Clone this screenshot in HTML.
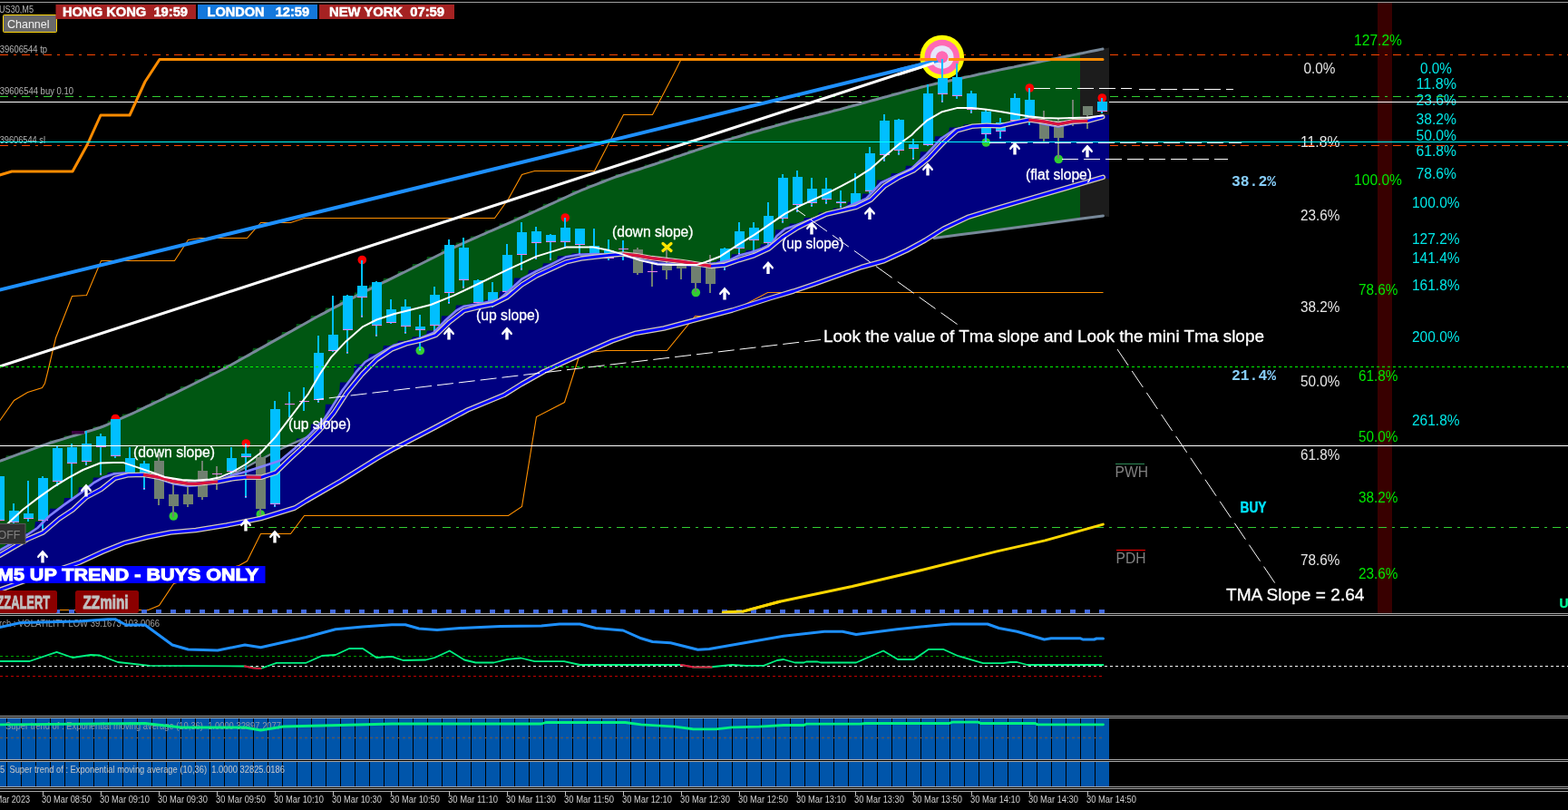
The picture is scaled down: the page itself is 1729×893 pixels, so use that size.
<!DOCTYPE html>
<html lang="en"><head><meta charset="utf-8"><title>US30 M5 chart</title>
<style>html,body{margin:0;padding:0;background:#000;overflow:hidden}svg{display:block}text{font-kerning:normal}</style></head>
<body>
<svg width="1729" height="893" viewBox="0 0 1729 893">
<rect x="0" y="0" width="1729" height="893" fill="#000"/>
<defs><clipPath id="main"><rect x="0" y="3" width="1729" height="673"/></clipPath><clipPath id="p1"><rect x="0" y="679" width="1729" height="110"/></clipPath></defs>
<g clip-path="url(#main)">
<rect x="1519" y="3" width="16" height="673" fill="#380000"/>
<text x="1566" y="80.5" font-family="'Liberation Sans', sans-serif" font-size="16" font-weight="normal" fill="#00F0F0" text-anchor="start" textLength="35" lengthAdjust="spacingAndGlyphs" fill-opacity="0.96" xml:space="preserve">0.0%</text>
<text x="1561.5" y="97.5" font-family="'Liberation Sans', sans-serif" font-size="16" font-weight="normal" fill="#00F0F0" text-anchor="start" textLength="44.5" lengthAdjust="spacingAndGlyphs" fill-opacity="0.96" xml:space="preserve">11.8%</text>
<text x="1561.5" y="115.5" font-family="'Liberation Sans', sans-serif" font-size="16" font-weight="normal" fill="#00F0F0" text-anchor="start" textLength="44.5" lengthAdjust="spacingAndGlyphs" fill-opacity="0.96" xml:space="preserve">23.6%</text>
<text x="1561.5" y="136.5" font-family="'Liberation Sans', sans-serif" font-size="16" font-weight="normal" fill="#00F0F0" text-anchor="start" textLength="44.5" lengthAdjust="spacingAndGlyphs" fill-opacity="0.96" xml:space="preserve">38.2%</text>
<text x="1561.5" y="154.5" font-family="'Liberation Sans', sans-serif" font-size="16" font-weight="normal" fill="#00F0F0" text-anchor="start" textLength="44.5" lengthAdjust="spacingAndGlyphs" fill-opacity="0.96" xml:space="preserve">50.0%</text>
<text x="1561.5" y="172" font-family="'Liberation Sans', sans-serif" font-size="16" font-weight="normal" fill="#00F0F0" text-anchor="start" textLength="44.5" lengthAdjust="spacingAndGlyphs" fill-opacity="0.96" xml:space="preserve">61.8%</text>
<text x="1561.5" y="197" font-family="'Liberation Sans', sans-serif" font-size="16" font-weight="normal" fill="#00F0F0" text-anchor="start" textLength="44.5" lengthAdjust="spacingAndGlyphs" fill-opacity="0.96" xml:space="preserve">78.6%</text>
<text x="1557" y="228.5" font-family="'Liberation Sans', sans-serif" font-size="16" font-weight="normal" fill="#00F0F0" text-anchor="start" textLength="52.5" lengthAdjust="spacingAndGlyphs" fill-opacity="0.96" xml:space="preserve">100.0%</text>
<text x="1557" y="268.5" font-family="'Liberation Sans', sans-serif" font-size="16" font-weight="normal" fill="#00F0F0" text-anchor="start" textLength="52.5" lengthAdjust="spacingAndGlyphs" fill-opacity="0.96" xml:space="preserve">127.2%</text>
<text x="1557" y="290" font-family="'Liberation Sans', sans-serif" font-size="16" font-weight="normal" fill="#00F0F0" text-anchor="start" textLength="52.5" lengthAdjust="spacingAndGlyphs" fill-opacity="0.96" xml:space="preserve">141.4%</text>
<text x="1557" y="320" font-family="'Liberation Sans', sans-serif" font-size="16" font-weight="normal" fill="#00F0F0" text-anchor="start" textLength="52.5" lengthAdjust="spacingAndGlyphs" fill-opacity="0.96" xml:space="preserve">161.8%</text>
<text x="1557" y="377" font-family="'Liberation Sans', sans-serif" font-size="16" font-weight="normal" fill="#00F0F0" text-anchor="start" textLength="52.5" lengthAdjust="spacingAndGlyphs" fill-opacity="0.96" xml:space="preserve">200.0%</text>
<text x="1557" y="468.5" font-family="'Liberation Sans', sans-serif" font-size="16" font-weight="normal" fill="#00F0F0" text-anchor="start" textLength="52.5" lengthAdjust="spacingAndGlyphs" fill-opacity="0.96" xml:space="preserve">261.8%</text>
<text x="1437.5" y="80.5" font-family="'Liberation Sans', sans-serif" font-size="16" font-weight="normal" fill="#FFFFFF" text-anchor="start" textLength="35.0" lengthAdjust="spacingAndGlyphs" fill-opacity="0.9" xml:space="preserve">0.0%</text>
<text x="1434" y="161.5" font-family="'Liberation Sans', sans-serif" font-size="16" font-weight="normal" fill="#FFFFFF" text-anchor="start" textLength="43.5" lengthAdjust="spacingAndGlyphs" fill-opacity="0.9" xml:space="preserve">11.8%</text>
<text x="1434" y="243" font-family="'Liberation Sans', sans-serif" font-size="16" font-weight="normal" fill="#FFFFFF" text-anchor="start" textLength="43.5" lengthAdjust="spacingAndGlyphs" fill-opacity="0.9" xml:space="preserve">23.6%</text>
<text x="1434" y="343.5" font-family="'Liberation Sans', sans-serif" font-size="16" font-weight="normal" fill="#FFFFFF" text-anchor="start" textLength="43.5" lengthAdjust="spacingAndGlyphs" fill-opacity="0.9" xml:space="preserve">38.2%</text>
<text x="1434" y="425.5" font-family="'Liberation Sans', sans-serif" font-size="16" font-weight="normal" fill="#FFFFFF" text-anchor="start" textLength="43.5" lengthAdjust="spacingAndGlyphs" fill-opacity="0.9" xml:space="preserve">50.0%</text>
<text x="1434" y="507" font-family="'Liberation Sans', sans-serif" font-size="16" font-weight="normal" fill="#FFFFFF" text-anchor="start" textLength="43.5" lengthAdjust="spacingAndGlyphs" fill-opacity="0.9" xml:space="preserve">61.8%</text>
<text x="1434" y="623" font-family="'Liberation Sans', sans-serif" font-size="16" font-weight="normal" fill="#FFFFFF" text-anchor="start" textLength="43.5" lengthAdjust="spacingAndGlyphs" fill-opacity="0.9" xml:space="preserve">78.6%</text>
<text x="1493" y="50" font-family="'Liberation Sans', sans-serif" font-size="16" font-weight="normal" fill="#00F000" text-anchor="start" textLength="53" lengthAdjust="spacingAndGlyphs" fill-opacity="0.96" xml:space="preserve">127.2%</text>
<text x="1493" y="203.5" font-family="'Liberation Sans', sans-serif" font-size="16" font-weight="normal" fill="#00F000" text-anchor="start" textLength="53" lengthAdjust="spacingAndGlyphs" fill-opacity="0.96" xml:space="preserve">100.0%</text>
<text x="1498" y="324.5" font-family="'Liberation Sans', sans-serif" font-size="16" font-weight="normal" fill="#00F000" text-anchor="start" textLength="43.5" lengthAdjust="spacingAndGlyphs" fill-opacity="0.96" xml:space="preserve">78.6%</text>
<text x="1498" y="420" font-family="'Liberation Sans', sans-serif" font-size="16" font-weight="normal" fill="#00F000" text-anchor="start" textLength="43.5" lengthAdjust="spacingAndGlyphs" fill-opacity="0.96" xml:space="preserve">61.8%</text>
<text x="1498" y="486.5" font-family="'Liberation Sans', sans-serif" font-size="16" font-weight="normal" fill="#00F000" text-anchor="start" textLength="43.5" lengthAdjust="spacingAndGlyphs" fill-opacity="0.96" xml:space="preserve">50.0%</text>
<text x="1498" y="553.5" font-family="'Liberation Sans', sans-serif" font-size="16" font-weight="normal" fill="#00F000" text-anchor="start" textLength="43.5" lengthAdjust="spacingAndGlyphs" fill-opacity="0.96" xml:space="preserve">38.2%</text>
<text x="1498" y="637.5" font-family="'Liberation Sans', sans-serif" font-size="16" font-weight="normal" fill="#00F000" text-anchor="start" textLength="43.5" lengthAdjust="spacingAndGlyphs" fill-opacity="0.96" xml:space="preserve">23.6%</text>
<line x1="0" y1="60.5" x2="1729" y2="60.5" stroke="#FF4500" stroke-width="1" stroke-dasharray="9 6 3 6" shape-rendering="crispEdges"/>
<line x1="0" y1="106.5" x2="1729" y2="106.5" stroke="#32CD32" stroke-width="1" stroke-dasharray="9 6 3 6" shape-rendering="crispEdges"/>
<line x1="0" y1="112.5" x2="1729" y2="112.5" stroke="#FFFFFF" stroke-width="1" shape-rendering="crispEdges"/>
<line x1="0" y1="160.5" x2="1729" y2="160.5" stroke="#FF4500" stroke-width="1" stroke-dasharray="9 6 3 6" shape-rendering="crispEdges"/>
<line x1="272" y1="581.5" x2="1729" y2="581.5" stroke="#32CD32" stroke-width="1" stroke-dasharray="9 6 3 6" shape-rendering="crispEdges"/>
<polygon points="1191,59.1 1216,54 1223,52.5 1223,239 1216,238.5 1191,241.5" fill="#1c1c1c"/>
<polygon points="-2,508.1 -1,508.1 0,507.8 1,507.4 2,507 3,506.7 4,506.3 5,505.9 6,505.6 7,502.3 8,502.3 9,502.3 10,502.3 11,502.3 12,502.3 13,502.3 14,502.3 15,502.3 16,501.9 17,501.6 18,501.2 19,500.8 20,500.5 21,500.1 22,499.7 23,496.4 24,496.4 25,496.4 26,496.4 27,496.4 28,496.4 29,496.4 30,496.4 31,496.4 32,496.1 33,495.7 34,495.3 35,495 36,494.6 37,494.2 38,493.9 39,490.6 40,490.6 41,490.6 42,490.6 43,490.6 44,490.6 45,490.6 46,490.6 47,490.6 48,490.3 49,489.9 50,489.6 51,489.3 52,488.9 53,488.6 54,488.3 55,485.5 56,485.5 57,485.5 58,485.5 59,485.5 60,485.5 61,485.5 62,485.5 63,485.5 64,485.2 65,484.9 66,484.6 67,484.3 68,484 69,483.7 70,483.4 71,480.6 72,480.6 73,480.6 74,480.6 75,480.6 76,480.6 77,480.6 78,480.6 79,480.6 80,480.3 81,480 82,479.7 83,479.4 84,479.1 85,478.8 86,478.5 87,475.7 88,475.7 89,475.7 90,475.7 91,475.7 92,475.7 93,475.7 94,475.7 95,475.7 96,475.4 97,475.1 98,474.8 99,474.5 100,474.2 101,473.9 102,473.6 103,470.6 104,470.6 105,470.6 106,470.6 107,470.6 108,470.6 109,470.6 110,470.6 111,470.6 112,470.2 113,469.8 114,469.5 115,469.1 116,468.6 117,468.2 118,467.8 119,463.8 120,463.8 121,463.8 122,463.8 123,463.8 124,463.8 125,463.8 126,463.8 127,463.8 128,463.3 129,462.9 130,462.4 131,462 132,461.6 133,461.1 134,460.7 135,456.6 136,456.6 137,456.6 138,456.6 139,456.6 140,456.6 141,456.6 142,456.6 143,456.6 144,456.2 145,455.7 146,455.3 147,454.8 148,454.4 149,453.9 150,453.5 151,449.2 152,449.2 153,449.2 154,449.2 155,449.2 156,449.2 157,449.2 158,449.2 159,449.2 160,448.7 161,448.2 162,447.7 163,447.3 164,446.8 165,446.3 166,445.8 167,441.5 168,441.5 169,441.5 170,441.5 171,441.5 172,441.5 173,441.5 174,441.5 175,441.5 176,441 177,440.5 178,440.1 179,439.6 180,439.1 181,438.6 182,438.1 183,433.8 184,433.8 185,433.8 186,433.8 187,433.8 188,433.8 189,433.8 190,433.8 191,433.8 192,433.3 193,432.9 194,432.4 195,431.9 196,431.4 197,430.9 198,430.4 199,426 200,426 201,426 202,426 203,426 204,426 205,426 206,426 207,426 208,425.5 209,425 210,424.5 211,424 212,423.5 213,423 214,422.5 215,418 216,418 217,418 218,418 219,418 220,418 221,418 222,418 223,418 224,417.5 225,417 226,416.5 227,416 228,415.5 229,415 230,414.5 231,410 232,410 233,410 234,410 235,410 236,410 237,410 238,410 239,410 240,409.5 241,409 242,408.5 243,408 244,407.5 245,407 246,406.5 247,401.7 248,401.7 249,401.7 250,401.7 251,401.7 252,401.7 253,401.7 254,401.7 255,401.7 256,401.1 257,400.6 258,400 259,399.5 260,398.9 261,398.3 262,397.8 263,392.7 264,392.7 265,392.7 266,392.7 267,392.7 268,392.7 269,392.7 270,392.7 271,392.7 272,392.2 273,391.6 274,391.1 275,390.5 276,389.9 277,389.4 278,388.8 279,383.8 280,383.8 281,383.8 282,383.8 283,383.8 284,383.8 285,383.8 286,383.8 287,383.8 288,383.2 289,382.7 290,382.1 291,381.5 292,381 293,380.4 294,379.9 295,374.8 296,374.8 297,374.8 298,374.8 299,374.8 300,374.8 301,374.8 302,374.8 303,374.8 304,374.3 305,373.7 306,373.1 307,372.6 308,372 309,371.5 310,370.9 311,365.9 312,365.9 313,365.9 314,365.9 315,365.9 316,365.9 317,365.9 318,365.9 319,365.9 320,365.3 321,364.7 322,364.2 323,363.6 324,363.1 325,362.5 326,361.9 327,356.9 328,356.9 329,356.9 330,356.9 331,356.9 332,356.9 333,356.9 334,356.9 335,356.9 336,356.3 337,355.8 338,355.2 339,354.7 340,354.1 341,353.5 342,353 343,348 344,348 345,348 346,348 347,348 348,348 349,348 350,348 351,348 352,347.5 353,346.9 354,346.4 355,345.9 356,345.3 357,344.8 358,344.3 359,339.5 360,339.5 361,339.5 362,339.5 363,339.5 364,339.5 365,339.5 366,339.5 367,339.5 368,339 369,338.4 370,337.9 371,337.4 372,336.8 373,336.3 374,335.8 375,331 376,331 377,331 378,331 379,331 380,331 381,331 382,331 383,331 384,330.5 385,330 386,329.4 387,328.9 388,328.4 389,327.8 390,327.3 391,322.6 392,322.6 393,322.6 394,322.6 395,322.6 396,322.6 397,322.6 398,322.6 399,322.6 400,322.1 401,321.6 402,321.1 403,320.6 404,320.1 405,319.6 406,319.1 407,314.6 408,314.6 409,314.6 410,314.6 411,314.6 412,314.6 413,314.6 414,314.6 415,314.6 416,314.2 417,313.7 418,313.2 419,312.7 420,312.2 421,311.7 422,311.2 423,306.8 424,306.8 425,306.8 426,306.8 427,306.8 428,306.8 429,306.8 430,306.8 431,306.8 432,306.3 433,305.8 434,305.3 435,304.8 436,304.4 437,303.9 438,303.4 439,299 440,299 441,299 442,299 443,299 444,299 445,299 446,299 447,299 448,298.5 449,298 450,297.5 451,297 452,296.5 453,296 454,295.5 455,291 456,291 457,291 458,291 459,291 460,291 461,291 462,291 463,291 464,290.5 465,290 466,289.5 467,289 468,288.5 469,288 470,287.5 471,283 472,283 473,283 474,283 475,283 476,283 477,283 478,283 479,283 480,282.5 481,282 482,281.5 483,281 484,280.5 485,280 486,279.5 487,275 488,275 489,275 490,275 491,275 492,275 493,275 494,275 495,275 496,274.5 497,274 498,273.6 499,273.1 500,272.6 501,272.1 502,271.6 503,267.6 504,267.6 505,267.6 506,267.6 507,267.6 508,267.6 509,267.6 510,267.6 511,267.6 512,267.1 513,266.6 514,266.2 515,265.8 516,265.3 517,264.8 518,264.4 519,260.4 520,260.4 521,260.4 522,260.4 523,260.4 524,260.4 525,260.4 526,260.4 527,260.4 528,259.9 529,259.5 530,259 531,258.6 532,258.1 533,257.7 534,257.3 535,253.4 536,253.4 537,253.4 538,253.4 539,253.4 540,253.4 541,253.4 542,253.4 543,253.4 544,252.9 545,252.5 546,252.1 547,251.6 548,251.2 549,250.8 550,250.3 551,246.4 552,246.4 553,246.4 554,246.4 555,246.4 556,246.4 557,246.4 558,246.4 559,246.4 560,246 561,245.5 562,245.1 563,244.6 564,244.2 565,243.7 566,243.3 567,239.2 568,239.2 569,239.2 570,239.2 571,239.2 572,239.2 573,239.2 574,239.2 575,239.2 576,238.8 577,238.3 578,237.9 579,237.4 580,237 581,236.5 582,236.1 583,232.1 584,232.1 585,232.1 586,232.1 587,232.1 588,232.1 589,232.1 590,232.1 591,232.1 592,231.6 593,231.1 594,230.7 595,230.2 596,229.8 597,229.3 598,228.9 599,224.8 600,224.8 601,224.8 602,224.8 603,224.8 604,224.8 605,224.8 606,224.8 607,224.8 608,224.3 609,223.8 610,223.4 611,222.9 612,222.5 613,222 614,221.5 615,217.4 616,217.4 617,217.4 618,217.4 619,217.4 620,217.4 621,217.4 622,217.4 623,217.4 624,216.9 625,216.5 626,216 627,215.5 628,215.1 629,214.6 630,214.2 631,210.1 632,210.1 633,210.1 634,210.1 635,210.1 636,210.1 637,210.1 638,210.1 639,210.1 640,209.7 641,209.3 642,208.9 643,208.5 644,208.1 645,207.7 646,207.3 647,203.8 648,203.8 649,203.8 650,203.8 651,203.8 652,203.8 653,203.8 654,203.8 655,203.8 656,203.4 657,203 658,202.6 659,202.2 660,201.8 661,201.4 662,201 663,197.5 664,197.5 665,197.5 666,197.5 667,197.5 668,197.5 669,197.5 670,197.5 671,197.5 672,197.2 673,196.8 674,196.4 675,196 676,195.6 677,195.3 678,194.9 679,191.9 680,191.9 681,191.9 682,191.9 683,191.9 684,191.9 685,191.9 686,191.9 687,191.9 688,191.6 689,191.2 690,190.9 691,190.6 692,190.2 693,189.9 694,189.6 695,186.7 696,186.7 697,186.7 698,186.7 699,186.7 700,186.7 701,186.7 702,186.7 703,186.7 704,186.4 705,186 706,185.7 707,185.4 708,185.1 709,184.7 710,184.4 711,181.5 712,181.5 713,181.5 714,181.5 715,181.5 716,181.5 717,181.5 718,181.5 719,181.5 720,181.1 721,180.8 722,180.5 723,180.1 724,179.8 725,179.4 726,179.1 727,176.1 728,176.1 729,176.1 730,176.1 731,176.1 732,176.1 733,176.1 734,176.1 735,176.1 736,175.8 737,175.4 738,175.1 739,174.7 740,174.4 741,174.1 742,173.7 743,170.7 744,170.7 745,170.7 746,170.7 747,170.7 748,170.7 749,170.7 750,170.7 751,170.7 752,170.4 753,170 754,169.7 755,169.4 756,169 757,168.7 758,168.4 759,165.3 760,165.3 761,165.3 762,165.3 763,165.3 764,165.3 765,165.3 766,165.3 767,165.3 768,165 769,164.7 770,164.3 771,164 772,163.6 773,163.3 774,163 775,159.9 776,159.9 777,159.9 778,159.9 779,159.9 780,159.9 781,159.9 782,159.9 783,159.9 784,159.6 785,159.3 786,158.9 787,158.6 788,158.3 789,157.9 790,157.6 791,154.7 792,154.7 793,154.7 794,154.7 795,154.7 796,154.7 797,154.7 798,154.7 799,154.7 800,154.4 801,154.1 802,153.8 803,153.5 804,153.2 805,152.9 806,152.6 807,149.9 808,149.9 809,149.9 810,149.9 811,149.9 812,149.9 813,149.9 814,149.9 815,149.9 816,149.6 817,149.3 818,149 819,148.7 820,148.4 821,148.1 822,147.8 823,145.1 824,145.1 825,145.1 826,145.1 827,145.1 828,145.1 829,145.1 830,145.1 831,145.1 832,144.8 833,144.5 834,144.2 835,143.9 836,143.6 837,143.3 838,143.1 839,140.5 840,140.5 841,140.5 842,140.5 843,140.5 844,140.5 845,140.5 846,140.5 847,140.5 848,140.2 849,140 850,139.7 851,139.4 852,139.1 853,138.8 854,138.6 855,136.1 856,136.1 857,136.1 858,136.1 859,136.1 860,136.1 861,136.1 862,136.1 863,136.1 864,135.8 865,135.5 866,135.2 867,134.9 868,134.7 869,134.4 870,134.1 871,131.8 872,131.8 873,131.8 874,131.8 875,131.8 876,131.8 877,131.8 878,131.8 879,131.8 880,131.5 881,131.3 882,131 883,130.8 884,130.6 885,130.3 886,130.1 887,128 888,128 889,128 890,128 891,128 892,128 893,128 894,128 895,128 896,127.7 897,127.5 898,127.2 899,127 900,126.8 901,126.5 902,126.3 903,123.9 904,123.9 905,123.9 906,123.9 907,123.9 908,123.9 909,123.9 910,123.9 911,123.9 912,123.7 913,123.4 914,123.2 915,122.9 916,122.7 917,122.4 918,122.1 919,119.8 920,119.8 921,119.8 922,119.8 923,119.8 924,119.8 925,119.8 926,119.8 927,119.8 928,119.5 929,119.3 930,119 931,118.7 932,118.5 933,118.2 934,117.9 935,115.5 936,115.5 937,115.5 938,115.5 939,115.5 940,115.5 941,115.5 942,115.5 943,115.5 944,115.2 945,115 946,114.7 947,114.4 948,114.1 949,113.9 950,113.6 951,111.1 952,111.1 953,111.1 954,111.1 955,111.1 956,111.1 957,111.1 958,111.1 959,111.1 960,110.9 961,110.6 962,110.3 963,110 964,109.8 965,109.5 966,109.2 967,106.8 968,106.8 969,106.8 970,106.8 971,106.8 972,106.8 973,106.8 974,106.8 975,106.8 976,106.5 977,106.2 978,106 979,105.7 980,105.4 981,105.1 982,104.9 983,102.4 984,102.4 985,102.4 986,102.4 987,102.4 988,102.4 989,102.4 990,102.4 991,102.4 992,102.1 993,101.9 994,101.6 995,101.3 996,101 997,100.8 998,100.5 999,98 1000,98 1001,98 1002,98 1003,98 1004,98 1005,98 1006,98 1007,98 1008,97.8 1009,97.5 1010,97.2 1011,97 1012,96.7 1013,96.4 1014,96.1 1015,93.9 1016,93.9 1017,93.9 1018,93.9 1019,93.9 1020,93.9 1021,93.9 1022,93.9 1023,93.9 1024,93.7 1025,93.4 1026,93.2 1027,93 1028,92.8 1029,92.5 1030,92.3 1031,90.3 1032,90.3 1033,90.3 1034,90.3 1035,90.3 1036,90.3 1037,90.3 1038,90.3 1039,90.3 1040,90.1 1041,89.9 1042,89.7 1043,89.5 1044,89.2 1045,89 1046,88.8 1047,86.8 1048,86.8 1049,86.8 1050,86.8 1051,86.8 1052,86.8 1053,86.8 1054,86.8 1055,86.8 1056,86.6 1057,86.4 1058,86.2 1059,86 1060,85.8 1061,85.5 1062,85.3 1063,83.3 1064,83.3 1065,83.3 1066,83.3 1067,83.3 1068,83.3 1069,83.3 1070,83.3 1071,83.3 1072,83.1 1073,82.9 1074,82.7 1075,82.5 1076,82.2 1077,82 1078,81.8 1079,79.8 1080,79.8 1081,79.8 1082,79.8 1083,79.8 1084,79.8 1085,79.8 1086,79.8 1087,79.8 1088,79.6 1089,79.4 1090,79.2 1091,79 1092,78.8 1093,78.5 1094,78.3 1095,76.4 1096,76.4 1097,76.4 1098,76.4 1099,76.4 1100,76.4 1101,76.4 1102,76.4 1103,76.4 1104,76.2 1105,76 1106,75.8 1107,75.6 1108,75.4 1109,75.2 1110,75 1111,73.2 1112,73.2 1113,73.2 1114,73.2 1115,73.2 1116,73.2 1117,73.2 1118,73.2 1119,73.2 1120,72.9 1121,72.7 1122,72.5 1123,72.3 1124,72.1 1125,71.9 1126,71.7 1127,69.9 1128,69.9 1129,69.9 1130,69.9 1131,69.9 1132,69.9 1133,69.9 1134,69.9 1135,69.9 1136,69.7 1137,69.5 1138,69.3 1139,69.1 1140,68.9 1141,68.7 1142,68.5 1143,66.7 1144,66.7 1145,66.7 1146,66.7 1147,66.7 1148,66.7 1149,66.7 1150,66.7 1151,66.7 1152,66.5 1153,66.3 1154,66.1 1155,65.9 1156,65.7 1157,65.5 1158,65.2 1159,63.4 1160,63.4 1161,63.4 1162,63.4 1163,63.4 1164,63.4 1165,63.4 1166,63.4 1167,63.4 1168,63.2 1169,63 1170,62.8 1171,62.6 1172,62.4 1173,62.2 1174,62 1175,60.2 1176,60.2 1177,60.2 1178,60.2 1179,60.2 1180,60.2 1181,60.2 1182,60.2 1183,60.2 1184,60 1185,59.8 1186,59.6 1187,59.4 1188,59.2 1189,59 1190,58.8 1191,56.9 1191,241.3 1126.7,250 1100,253.6 1060,258.5 1030,262 1020,265 1000,276 975,287.5 950,294.5 925,303.5 900,312.5 875,321 850,328.5 807.5,342 775,350.5 732,362 700,367.5 675,376 650,387 625,398 600,409.5 575,423.5 556,435.3 515.6,452 480,471 432,496 416,505.2 375.6,530.3 338,552 325,560 287.5,571.5 270,575 250,579 216,584.5 188,587 163,592 138,598.3 112.9,608.4 87.8,620 37,637 -2,651" fill="#005612"/>
<polygon points="-2,605.5 -1,605.5 0,605 1,604.4 2,603.9 3,603.3 4,602.7 5,602.2 6,601.6 7,596.5 8,596.5 9,596.5 10,596.5 11,596.5 12,596.5 13,596.5 14,596.5 15,596.5 16,596 17,595.4 18,594.8 19,594.3 20,593.7 21,593.1 22,592.6 23,587.4 24,587.4 25,587.4 26,587.4 27,587.4 28,587.4 29,587.4 30,587.4 31,587.4 32,586.7 33,586.1 34,585.4 35,584.7 36,584.1 37,583.4 38,582.8 39,574.9 40,574.9 41,574.9 42,574.9 43,574.9 44,574.9 45,574.9 46,574.9 47,574.9 48,573.9 49,572.9 50,571.9 51,570.9 52,569.9 53,568.9 54,567.9 55,560.8 56,560.8 57,560.8 58,560.8 59,560.8 60,560.8 61,560.8 62,560.8 63,560.8 64,560.1 65,559.3 66,558.6 67,557.8 68,557.1 69,556.3 70,555.6 71,549.1 72,549.1 73,549.1 74,549.1 75,549.1 76,549.1 77,549.1 78,549.1 79,549.1 80,548.4 81,547.7 82,547 83,546.3 84,545.6 85,544.9 86,544.2 87,537.3 88,537.3 89,537.3 90,537.3 91,537.3 92,537.3 93,537.3 94,537.3 95,537.3 96,536.6 97,535.8 98,535 99,534.2 100,533.5 101,532.7 102,531.9 103,526.4 104,526.4 105,526.4 106,526.4 107,526.4 108,526.4 109,526.4 110,526.4 111,526.4 112,525.8 113,525.4 114,524.9 115,524.6 116,524.2 117,523.9 118,523.5 119,520.8 120,520.8 121,520.8 122,520.8 123,520.8 124,520.8 125,520.8 126,520.8 127,520.8 128,520.7 129,520.6 130,520.6 131,520.5 132,520.4 133,520.4 134,520.3 135,520.2 136,520.1 137,520.1 138,520 139,520.1 140,520.2 141,520.3 142,520.4 143,520.5 144,520.5 145,520.5 146,520.5 147,520.5 148,520.5 149,520.5 150,520.5 151,521.3 152,521.4 153,521.5 154,521.6 155,521.7 156,521.8 157,521.8 158,521.8 159,522 160,522 161,522 162,522 163,522 164,522 165,522 166,522 167,523.3 168,523.4 169,523.6 170,523.8 171,523.9 172,524.1 173,524.3 174,524.4 175,524.6 176,524.6 177,524.6 178,524.6 179,524.6 180,524.6 181,524.6 182,524.6 183,526.9 184,527.1 185,527.4 186,527.7 187,528 188,528.3 189,528.6 190,528.9 191,529.1 192,529.1 193,529.1 194,529.1 195,529.1 196,529.1 197,529.1 198,529.1 199,530.4 200,530.5 201,530.7 202,530.8 203,531 204,531.1 205,531.3 206,531.4 207,531.5 208,531.5 209,531.5 210,531.5 211,531.5 212,531.5 213,531.5 214,531.5 215,531.1 216,531.1 217,531.1 218,531.1 219,531.1 220,531.1 221,531.1 222,531.1 223,531.1 224,531 225,530.9 226,530.8 227,530.8 228,530.7 229,530.6 230,530.5 231,528.4 232,528.4 233,528.4 234,528.4 235,528.4 236,528.4 237,528.4 238,528.4 239,528.4 240,528.2 241,527.9 242,527.5 243,527.2 244,526.8 245,526.5 246,526.1 247,523 248,523 249,523 250,523 251,523 252,523 253,523 254,523 255,523 256,522.6 257,522.4 258,522.1 259,521.8 260,521.5 261,521.3 262,521 263,518.5 264,518.5 265,518.5 266,518.5 267,518.5 268,518.5 269,518.5 270,518.5 271,518.5 272,518.2 273,517.9 274,517.6 275,517.3 276,517 277,516.6 278,516.3 279,513.5 280,513.5 281,513.5 282,513.5 283,513.5 284,513.5 285,513.5 286,513.5 287,513.5 288,513.1 289,512.8 290,512.5 291,512.2 292,511.8 293,511.5 294,511.2 295,508.2 296,508.2 297,508.2 298,508.2 299,508.2 300,508.2 301,508.2 302,508.2 303,508.2 304,507.9 305,507.6 306,507.2 307,506.9 308,506.6 309,506 310,505.4 311,497.8 312,497.8 313,497.8 314,497.8 315,497.8 316,497.8 317,497.8 318,497.8 319,497.8 320,497 321,496.1 322,495.3 323,494.4 324,493.6 325,492.7 326,491.8 327,483.6 328,483.6 329,483.6 330,483.6 331,483.6 332,483.6 333,483.6 334,483.6 335,483.6 336,482.6 337,481.7 338,480.8 339,479.9 340,479 341,478 342,477.1 343,467.4 344,467.4 345,467.4 346,467.4 347,467.4 348,467.4 349,467.4 350,467.4 351,467.4 352,466.3 353,465.2 354,464.1 355,463 356,462 357,460.9 358,459.8 359,445.8 360,445.8 361,445.8 362,445.8 363,445.8 364,445.8 365,445.8 366,445.8 367,445.8 368,444.2 369,442.6 370,441 371,439.4 372,437.8 373,436.2 374,434.6 375,421.6 376,421.6 377,421.6 378,421.6 379,421.6 380,421.6 381,421.6 382,421.6 383,421.6 384,420.3 385,418.9 386,417.6 387,416.3 388,415 389,413.6 390,412.3 391,401.6 392,401.6 393,401.6 394,401.6 395,401.6 396,401.6 397,401.6 398,401.6 399,401.6 400,400.5 401,399.4 402,398.3 403,397.5 404,396.7 405,396.2 406,395.6 407,390.3 408,390.3 409,390.3 410,390.3 411,390.3 412,390.3 413,390.3 414,390.3 415,390.3 416,389.7 417,389.2 418,388.6 419,388 420,387.4 421,386.9 422,386.3 423,381.1 424,381.1 425,381.1 426,381.1 427,381.1 428,381.1 429,381.1 430,381.1 431,381.1 432,380.5 433,379.9 434,379.4 435,379.1 436,378.8 437,378.5 438,378.2 439,375.8 440,375.8 441,375.8 442,375.8 443,375.8 444,375.8 445,375.8 446,375.8 447,375.8 448,375.5 449,375.3 450,375 451,374.7 452,374.4 453,374.1 454,373.8 455,371.2 456,371.2 457,371.2 458,371.2 459,371.2 460,371.2 461,371.2 462,371.2 463,371.2 464,370.9 465,370.6 466,370.3 467,369.9 468,369.5 469,369.1 470,368.7 471,364.4 472,364.4 473,364.4 474,364.4 475,364.4 476,364.4 477,364.4 478,364.4 479,364.4 480,363.4 481,362.3 482,361.3 483,360.2 484,359.2 485,358.1 486,357.1 487,348.3 488,348.3 489,348.3 490,348.3 491,348.3 492,348.3 493,348.3 494,348.3 495,348.3 496,347.4 497,346.5 498,345.6 499,344.7 500,343.8 501,342.9 502,342 503,336.6 504,336.6 505,336.6 506,336.6 507,336.6 508,336.6 509,336.6 510,336.6 511,336.6 512,336.2 513,336 514,335.9 515,335.7 516,335.6 517,335.4 518,335.3 519,333.9 520,333.9 521,333.9 522,333.9 523,333.9 524,333.9 525,333.9 526,333.9 527,333.9 528,333.7 529,333.5 530,333.3 531,333 532,332.8 533,332.6 534,332.4 535,330.4 536,330.4 537,330.4 538,330.4 539,330.4 540,330.4 541,330.4 542,330.4 543,330.4 544,330.2 545,330 546,329.7 547,329.5 548,329.3 549,329.1 550,328.8 551,321.1 552,321.1 553,321.1 554,321.1 555,321.1 556,321.1 557,321.1 558,321.1 559,321.1 560,320.2 561,319.3 562,318.4 563,317.4 564,316.5 565,315.6 566,314.7 567,306.6 568,306.6 569,306.6 570,306.6 571,306.6 572,306.6 573,306.6 574,306.6 575,306.6 576,305.8 577,305.3 578,304.7 579,304.2 580,303.7 581,303.1 582,302.6 583,297.7 584,297.7 585,297.7 586,297.7 587,297.7 588,297.7 589,297.7 590,297.7 591,297.7 592,297.2 593,296.8 594,296.3 595,295.8 596,295.4 597,294.9 598,294.5 599,290.3 600,290.3 601,290.3 602,290.3 603,290.3 604,290.3 605,290.3 606,290.3 607,290.3 608,289.8 609,289.3 610,288.8 611,288.3 612,287.8 613,287.3 614,286.8 615,282.3 616,282.3 617,282.3 618,282.3 619,282.3 620,282.3 621,282.3 622,282.3 623,282.3 624,281.8 625,281.6 626,281.4 627,281.2 628,281 629,280.8 630,280.6 631,279.2 632,279.2 633,279.2 634,279.2 635,279.2 636,279.2 637,279.2 638,279.2 639,279.2 640,279.1 641,279.1 642,279.1 643,279 644,279 645,279 646,278.9 647,278.7 648,278.7 649,278.7 650,278.7 651,278.7 652,278.7 653,278.7 654,278.7 655,278.7 656,278.6 657,278.6 658,278.6 659,278.6 660,278.7 661,278.7 662,278.7 663,278.7 664,278.8 665,278.8 666,278.8 667,278.8 668,278.8 669,278.9 670,278.9 671,278.9 672,278.9 673,278.9 674,278.9 675,278.9 676,278.9 677,278.9 678,278.9 679,278.7 680,278.7 681,278.7 682,278.7 683,278.7 684,278.7 685,278.7 686,278.7 687,278.7 688,278.7 689,278.7 690,278.7 691,278.7 692,278.7 693,278.7 694,278.7 695,279.5 696,279.6 697,279.7 698,279.8 699,279.9 700,280 701,280.1 702,280.2 703,280.4 704,280.4 705,280.4 706,280.4 707,280.4 708,280.4 709,280.4 710,280.4 711,281.7 712,281.9 713,282.1 714,282.3 715,282.4 716,282.6 717,282.8 718,282.9 719,283.1 720,283.1 721,283.1 722,283.1 723,283.1 724,283.1 725,283.1 726,283.1 727,284 728,284.2 729,284.3 730,284.4 731,284.5 732,284.6 733,284.7 734,284.9 735,285 736,285 737,285 738,285 739,285 740,285 741,285 742,285 743,285.9 744,286 745,286.1 746,286.3 747,286.4 748,286.5 749,286.6 750,286.7 751,286.9 752,286.9 753,286.9 754,286.9 755,286.9 756,286.9 757,286.9 758,286.9 759,288.1 760,288.2 761,288.4 762,288.5 763,288.7 764,288.8 765,289 766,289.1 767,289.3 768,289.3 769,289.3 770,289.3 771,289.3 772,289.3 773,289.3 774,289.3 775,289.5 776,289.5 777,289.5 778,289.5 779,289.5 780,289.5 781,289.5 782,289.5 783,289.5 784,289.4 785,289.3 786,289.2 787,289 788,288.9 789,288.8 790,288.7 791,286.6 792,286.6 793,286.6 794,286.6 795,286.6 796,286.6 797,286.6 798,286.6 799,286.6 800,286.3 801,286.1 802,285.8 803,285.6 804,285.3 805,285 806,284.7 807,280.3 808,280.3 809,280.3 810,280.3 811,280.3 812,280.3 813,280.3 814,280.3 815,280.3 816,279.8 817,279.6 818,279.3 819,279.1 820,278.8 821,278.6 822,278.3 823,275.7 824,275.7 825,275.7 826,275.7 827,275.7 828,275.7 829,275.7 830,275.7 831,275.7 832,275.4 833,275 834,274.7 835,274.3 836,274 837,273.6 838,273.3 839,269.2 840,269.2 841,269.2 842,269.2 843,269.2 844,269.2 845,269.2 846,269.2 847,269.2 848,268.7 849,268.2 850,267.7 851,266.6 852,265.4 853,264 854,262.6 855,253.3 856,253.3 857,253.3 858,253.3 859,253.3 860,253.3 861,253.3 862,253.3 863,253.3 864,252.5 865,251.7 866,251 867,250.6 868,250.3 869,249.9 870,249.6 871,246.4 872,246.4 873,246.4 874,246.4 875,246.4 876,246.4 877,246.4 878,246.4 879,246.4 880,246 881,245.6 882,245.2 883,244.8 884,244.4 885,244 886,243.6 887,240.1 888,240.1 889,240.1 890,240.1 891,240.1 892,240.1 893,240.1 894,240.1 895,240.1 896,239.8 897,239.4 898,239 899,238.7 900,238.3 901,237.9 902,237.6 903,234.5 904,234.5 905,234.5 906,234.5 907,234.5 908,234.5 909,234.5 910,234.5 911,234.5 912,234.2 913,233.9 914,233.6 915,233.2 916,232.9 917,232.6 918,232.3 919,229.4 920,229.4 921,229.4 922,229.4 923,229.4 924,229.4 925,229.4 926,229.4 927,229.4 928,229.1 929,228.8 930,228.5 931,228.1 932,227.6 933,227.2 934,226.8 935,222.8 936,222.8 937,222.8 938,222.8 939,222.8 940,222.8 941,222.8 942,222.8 943,222.8 944,222.4 945,222 946,221.5 947,221.1 948,220.7 949,220.2 950,219.8 951,213.5 952,213.5 953,213.5 954,213.5 955,213.5 956,213.5 957,213.5 958,213.5 959,213.5 960,212.5 961,211.4 962,210.3 963,209.2 964,208.2 965,207.1 966,206 967,198.4 968,198.4 969,198.4 970,198.4 971,198.4 972,198.4 973,198.4 974,198.4 975,198.4 976,197.9 977,197.5 978,197 979,196.5 980,196.1 981,195.6 982,195.1 983,190.9 984,190.9 985,190.9 986,190.9 987,190.9 988,190.9 989,190.9 990,190.9 991,190.9 992,190.5 993,190 994,189.5 995,189.1 996,188.6 997,188.2 998,187.7 999,182.8 1000,182.8 1001,182.8 1002,182.8 1003,182.8 1004,182.8 1005,182.8 1006,182.8 1007,182.8 1008,181.8 1009,180.8 1010,179.9 1011,178.9 1012,177.9 1013,177 1014,176 1015,167.2 1016,167.2 1017,167.2 1018,167.2 1019,167.2 1020,167.2 1021,167.2 1022,167.2 1023,167.2 1024,166.1 1025,165 1026,164 1027,162.9 1028,161.8 1029,160.7 1030,159.6 1031,150.3 1032,150.3 1033,150.3 1034,150.3 1035,150.3 1036,150.3 1037,150.3 1038,150.3 1039,150.3 1040,149.7 1041,149 1042,148.4 1043,147.7 1044,147 1045,146.4 1046,145.7 1047,140.6 1048,140.6 1049,140.6 1050,140.6 1051,140.6 1052,140.6 1053,140.6 1054,140.6 1055,140.6 1056,140.4 1057,140.2 1058,139.9 1059,139.7 1060,139.5 1061,139.3 1062,139.1 1063,137.2 1064,137.2 1065,137.2 1066,137.2 1067,137.2 1068,137.2 1069,137.2 1070,137.2 1071,137.2 1072,137 1073,137 1074,136.9 1075,136.9 1076,136.9 1077,136.8 1078,136.8 1079,136.5 1080,136.5 1081,136.5 1082,136.5 1083,136.5 1084,136.5 1085,136.5 1086,136.5 1087,136.5 1088,136.5 1089,136.5 1090,136.5 1091,136.5 1092,136.5 1093,136.5 1094,136.5 1095,136.7 1096,136.8 1097,136.8 1098,136.8 1099,136.9 1100,136.9 1101,136.9 1102,136.9 1103,136.9 1104,136.7 1105,136.5 1106,136.3 1107,136.1 1108,135.9 1109,135.7 1110,135.5 1111,133.5 1112,133.5 1113,133.5 1114,133.5 1115,133.5 1116,133.5 1117,133.5 1118,133.5 1119,133.5 1120,133.4 1121,133.2 1122,133 1123,132.8 1124,132.7 1125,132.4 1126,132.2 1127,130.6 1128,130.6 1129,130.6 1130,130.6 1131,130.6 1132,130.6 1133,130.6 1134,130.5 1135,130.6 1136,130.6 1137,130.6 1138,130.6 1139,130.6 1140,130.6 1141,130.6 1142,130.6 1143,131.5 1144,131.6 1145,131.8 1146,131.9 1147,132 1148,132.1 1149,132.2 1150,132.3 1151,132.5 1152,132.5 1153,132.5 1154,132.5 1155,132.5 1156,132.5 1157,132.5 1158,132.5 1159,134 1160,134.2 1161,134.4 1162,134.6 1163,134.8 1164,135 1165,135.2 1166,135.3 1167,135.3 1168,135.3 1169,135.1 1170,134.9 1171,134.7 1172,134.5 1173,134.3 1174,134.1 1175,132.5 1176,132.5 1177,132.5 1178,132.5 1179,132.5 1180,132.5 1181,132.5 1182,132.5 1183,132.5 1184,132.4 1185,132.3 1186,132.3 1187,132.3 1188,132.2 1189,132.2 1190,132.1 1191,131.7 1192,131.7 1193,131.7 1194,131.7 1195,131.7 1196,131.7 1197,131.7 1198,131.7 1199,131.7 1200,131.6 1201,131.4 1202,131.1 1203,130.8 1204,130.6 1205,130.3 1206,130 1207,127.6 1208,127.6 1209,127.6 1210,127.6 1211,127.6 1212,127.6 1213,127.6 1214,127.6 1215,127.6 1216,127.3 1216,126.4 1223,126.4 1223,197.5 1216,196 1216.2,195.4 1200,200.2 1175,207.5 1135,219.2 1100,229.4 1068.2,239.1 1040.6,252 1020,265 1000,276 975,287.5 950,294.5 925,303.5 900,312.5 875,321 850,328.5 807.5,342 775,350.5 732,362 700,367.5 675,376 650,387 625,398 600,409.5 575,423.5 556,435.3 515.6,452 480,471 432,496 416,505.2 375.6,530.3 338,552 325,560 287.5,571.5 270,575 250,579 216,584.5 188,587 163,592 138,598.3 112.9,608.4 87.8,620 37,637 -2,651" fill="#000080"/>
<polygon points="245,529.5 261.5,520.3 280.3,510.2 309.1,495.2 335.5,483.3 340,481.3 340,479 338,480.8 336,482.6 334,484.5 332,486.3 330,488.2 328,490 326,491.8 324,493.6 322,495.3 320,497 318,498.7 316,500.4 314,502.1 312,503.7 310,505.4 308,506.6 306,507.2 304,507.9 302,508.5 300,509.2 298,509.9 296,510.5 294,511.2 292,511.8 290,512.5 288,513.1 286,513.8 284,514.4 282,515 280,515.7 278,516.3 276,517 274,517.6 272,518.2 270,518.9 268,519.4 266,519.9 264,520.5 262,521 260,521.5 258,522.1 256,522.6 254,523.3 252,524 250,524.7 248,525.4 246,526.1 244,526.8 242,527.5 240,528.2" fill="#000814"/>
<polyline points="245,529.5 261.5,520.3 280.3,510.2 309.1,495.2 335.5,483.3 340,481.3" fill="none" stroke="#778899" stroke-width="2.4" stroke-linejoin="round" stroke-linecap="round"/>
<polyline points="-2,509 2,507.5 6,506.1 10,504.6 14,503.2 18,501.7 22,500.2 26,498.8 30,497.3 34,495.8 38,494.4 42,492.9 46,491.5 50,490.1 54,488.8 58,487.5 62,486.3 66,485.1 70,483.9 74,482.6 78,481.4 82,480.2 86,479 90,477.7 94,476.5 98,475.3 102,474.1 106,472.8 110,471.5 114,470 118,468.3 122,466.5 126,464.7 130,462.9 134,461.2 138,459.4 142,457.6 146,455.8 150,454 154,452.1 158,450.2 162,448.2 166,446.3 170,444.4 174,442.5 178,440.6 182,438.6 186,436.7 190,434.8 194,432.9 198,430.9 202,429 206,427 210,425 214,423 218,421 222,419 226,417 230,415 234,413 238,411 242,409 246,407 250,404.9 254,402.7 258,400.5 262,398.3 266,396 270,393.8 274,391.6 278,389.3 282,387.1 286,384.8 290,382.6 294,380.4 298,378.1 302,375.9 306,373.6 310,371.4 314,369.2 318,366.9 322,364.7 326,362.4 330,360.2 334,358 338,355.7 342,353.5 346,351.3 350,349 354,346.9 358,344.8 362,342.6 366,340.5 370,338.4 374,336.3 378,334.2 382,332 386,329.9 390,327.8 394,325.7 398,323.6 402,321.6 406,319.6 410,317.6 414,315.6 418,313.7 422,311.7 426,309.8 430,307.8 434,305.8 438,303.9 442,301.9 446,300 450,298 454,296 458,294 462,292 466,290 470,288 474,286 478,284 482,282 486,280 490,278 494,276 498,274.1 502,272.1 506,270.3 510,268.5 514,266.7 518,264.9 522,263.1 526,261.3 530,259.5 534,257.8 538,256 542,254.3 546,252.6 550,250.8 554,249.1 558,247.4 562,245.6 566,243.8 570,242 574,240.2 578,238.4 582,236.6 586,234.8 590,233 594,231.2 598,229.4 602,227.6 606,225.7 610,223.9 614,222 618,220.2 622,218.3 626,216.5 630,214.7 634,212.8 638,211.1 642,209.4 646,207.8 650,206.2 654,204.7 658,203.1 662,201.5 666,200 670,198.4 674,196.9 678,195.4 682,194 686,192.7 690,191.4 694,190.1 698,188.8 702,187.5 706,186.2 710,184.9 714,183.6 718,182.3 722,181 726,179.6 730,178.3 734,176.9 738,175.6 742,174.2 746,172.9 750,171.6 754,170.2 758,168.9 762,167.5 766,166.2 770,164.8 774,163.5 778,162.1 782,160.8 786,159.4 790,158.1 794,156.8 798,155.5 802,154.3 806,153.1 810,151.9 814,150.7 818,149.5 822,148.3 826,147.1 830,145.9 834,144.7 838,143.6 842,142.4 846,141.3 850,140.2 854,139.1 858,138 862,136.8 866,135.7 870,134.6 874,133.5 878,132.5 882,131.5 886,130.6 890,129.7 894,128.7 898,127.7 902,126.8 906,125.7 910,124.7 914,123.7 918,122.6 922,121.6 926,120.6 930,119.5 934,118.4 938,117.4 942,116.3 946,115.2 950,114.1 954,113 958,111.9 962,110.8 966,109.7 970,108.6 974,107.5 978,106.5 982,105.4 986,104.3 990,103.2 994,102.1 998,101 1002,99.9 1006,98.8 1010,97.7 1014,96.6 1018,95.6 1022,94.6 1026,93.7 1030,92.8 1034,91.9 1038,91.1 1042,90.2 1046,89.3 1050,88.4 1054,87.6 1058,86.7 1062,85.8 1066,84.9 1070,84.1 1074,83.2 1078,82.3 1082,81.4 1086,80.6 1090,79.7 1094,78.8 1098,78 1102,77.1 1106,76.3 1110,75.5 1114,74.7 1118,73.9 1122,73 1126,72.2 1130,71.4 1134,70.6 1138,69.8 1142,69 1146,68.2 1150,67.4 1154,66.6 1158,65.8 1162,64.9 1166,64.1 1170,63.3 1174,62.5 1178,61.7 1182,60.9 1186,60.1 1190,59.3 1194,58.5 1198,57.6 1202,56.8 1206,56 1210,55.2 1214,54.4 1216,54" fill="none" stroke="#778899" stroke-width="3" stroke-linejoin="round" stroke-linecap="round"/>
<polyline points="1030,262.5 1060,258.5 1100,253.6 1126.7,250 1191,241.3 1216.4,237.9" fill="none" stroke="#778899" stroke-width="3" stroke-linejoin="round" stroke-linecap="round"/>
<circle cx="127.3" cy="461.5" r="4.8" fill="#FF0000"/>
<circle cx="271.3" cy="489" r="4.8" fill="#FF0000"/>
<circle cx="399.3" cy="286.5" r="4.8" fill="#FF0000"/>
<circle cx="623.3" cy="240" r="4.8" fill="#FF0000"/>
<circle cx="1135.3" cy="97" r="4.8" fill="#FF0000"/>
<circle cx="1215.3" cy="108" r="4.8" fill="#FF0000"/>
<circle cx="191.3" cy="569" r="4.8" fill="#32CD32"/>
<circle cx="287.3" cy="567" r="4.8" fill="#32CD32"/>
<circle cx="463.3" cy="386.5" r="4.8" fill="#32CD32"/>
<circle cx="767.3" cy="322.5" r="4.8" fill="#32CD32"/>
<circle cx="1087.3" cy="157" r="4.8" fill="#32CD32"/>
<circle cx="1167.3" cy="175.5" r="4.8" fill="#32CD32"/>
<rect x="79" y="475" width="14" height="3.5" fill="#3C0040"/>
<g shape-rendering="crispEdges"><rect x="-2" y="520" width="2" height="56" fill="#00BFFF"/><rect x="-6" y="525" width="11" height="49" fill="#00BFFF"/><rect x="-6" y="573" width="11" height="1" fill="#EE82EE"/><rect x="14" y="555" width="2" height="23.5" fill="#00BFFF"/><rect x="10" y="563" width="11" height="13" fill="#00BFFF"/><rect x="10" y="575" width="11" height="1" fill="#EE82EE"/><rect x="30" y="530" width="2" height="45" fill="#00BFFF"/><rect x="26" y="566" width="11" height="6" fill="#00BFFF"/><rect x="26" y="571" width="11" height="1" fill="#EE82EE"/><rect x="46" y="525" width="2" height="60" fill="#00BFFF"/><rect x="42" y="527" width="11" height="47" fill="#00BFFF"/><rect x="42" y="573" width="11" height="1" fill="#EE82EE"/><rect x="46" y="583" width="2" height="1" fill="#EE82EE"/><rect x="62" y="492" width="2" height="44" fill="#00BFFF"/><rect x="58" y="494" width="11" height="36.5" fill="#00BFFF"/><rect x="58" y="529.5" width="11" height="1" fill="#EE82EE"/><rect x="62" y="534" width="2" height="1" fill="#EE82EE"/><rect x="78" y="489" width="2" height="63" fill="#00BFFF"/><rect x="74" y="492.5" width="11" height="18.5" fill="#00BFFF"/><rect x="74" y="510" width="11" height="1" fill="#EE82EE"/><rect x="78" y="550" width="2" height="1" fill="#EE82EE"/><rect x="94" y="475" width="2" height="37.5" fill="#00BFFF"/><rect x="90" y="489" width="11" height="20" fill="#00BFFF"/><rect x="90" y="508" width="11" height="1" fill="#EE82EE"/><rect x="94" y="510.5" width="2" height="1" fill="#EE82EE"/><rect x="110" y="478" width="2" height="46" fill="#00BFFF"/><rect x="106" y="481" width="11" height="11.5" fill="#00BFFF"/><rect x="106" y="491.5" width="11" height="1" fill="#EE82EE"/><rect x="110" y="522" width="2" height="1" fill="#EE82EE"/><rect x="126" y="462" width="2" height="43" fill="#00BFFF"/><rect x="122" y="462" width="11" height="41" fill="#00BFFF"/><rect x="122" y="502" width="11" height="1" fill="#EE82EE"/><rect x="142" y="492.5" width="2" height="33.5" fill="#00BFFF"/><rect x="138" y="505" width="11" height="17.5" fill="#00BFFF"/><rect x="138" y="521.5" width="11" height="1" fill="#EE82EE"/><rect x="142" y="524" width="2" height="1" fill="#EE82EE"/><rect x="158" y="508" width="2" height="32" fill="#00BFFF"/><rect x="154" y="511" width="11" height="11.5" fill="#00BFFF"/><rect x="154" y="521.5" width="11" height="1" fill="#EE82EE"/><rect x="158" y="538" width="2" height="1" fill="#EE82EE"/><rect x="174" y="501" width="2" height="56" fill="#708070"/><rect x="170" y="508" width="11" height="42" fill="#708070"/><rect x="190" y="534" width="2" height="36" fill="#708070"/><rect x="186" y="544.5" width="11" height="13.0" fill="#708070"/><rect x="206" y="535" width="2" height="24" fill="#708070"/><rect x="202" y="544.5" width="11" height="11.0" fill="#708070"/><rect x="222" y="508" width="2" height="43" fill="#708070"/><rect x="218" y="519" width="11" height="28.5" fill="#708070"/><rect x="238" y="514" width="2" height="26" fill="#708070"/><rect x="234" y="522.0" width="11" height="1" fill="#EE82EE"/><rect x="254" y="492.5" width="2" height="32.5" fill="#00BFFF"/><rect x="250" y="505" width="11" height="14.5" fill="#00BFFF"/><rect x="250" y="518.5" width="11" height="1" fill="#EE82EE"/><rect x="254" y="523" width="2" height="1" fill="#EE82EE"/><rect x="270" y="489" width="2" height="60" fill="#00BFFF"/><rect x="266" y="500" width="11" height="4" fill="#00BFFF"/><rect x="266" y="503" width="11" height="1" fill="#EE82EE"/><rect x="270" y="547" width="2" height="1" fill="#EE82EE"/><rect x="286" y="494.5" width="2" height="73.0" fill="#708070"/><rect x="282" y="504" width="11" height="57" fill="#708070"/><rect x="302" y="442" width="2" height="117" fill="#00BFFF"/><rect x="298" y="451" width="11" height="104.5" fill="#00BFFF"/><rect x="298" y="554.5" width="11" height="1" fill="#EE82EE"/><rect x="302" y="557" width="2" height="1" fill="#EE82EE"/><rect x="318" y="432" width="2" height="27.5" fill="#00BFFF"/><rect x="314" y="445.0" width="11" height="1" fill="#EE82EE"/><rect x="334" y="427" width="2" height="25.5" fill="#00BFFF"/><rect x="330" y="442.0" width="11" height="1" fill="#EE82EE"/><rect x="350" y="370" width="2" height="74" fill="#00BFFF"/><rect x="346" y="389" width="11" height="51.5" fill="#00BFFF"/><rect x="346" y="439.5" width="11" height="1" fill="#EE82EE"/><rect x="350" y="442" width="2" height="1" fill="#EE82EE"/><rect x="366" y="326" width="2" height="61.5" fill="#00BFFF"/><rect x="362" y="369" width="11" height="18" fill="#00BFFF"/><rect x="362" y="386" width="11" height="1" fill="#EE82EE"/><rect x="382" y="325" width="2" height="65" fill="#00BFFF"/><rect x="378" y="326" width="11" height="38" fill="#00BFFF"/><rect x="378" y="363" width="11" height="1" fill="#EE82EE"/><rect x="382" y="388" width="2" height="1" fill="#EE82EE"/><rect x="398" y="286.5" width="2" height="63.5" fill="#00BFFF"/><rect x="394" y="314.5" width="11" height="13.0" fill="#00BFFF"/><rect x="394" y="326.5" width="11" height="1" fill="#EE82EE"/><rect x="398" y="348" width="2" height="1" fill="#EE82EE"/><rect x="414" y="310" width="2" height="61" fill="#00BFFF"/><rect x="410" y="311" width="11" height="48" fill="#00BFFF"/><rect x="410" y="358" width="11" height="1" fill="#EE82EE"/><rect x="414" y="369" width="2" height="1" fill="#EE82EE"/><rect x="430" y="330" width="2" height="27" fill="#00BFFF"/><rect x="426" y="341" width="11" height="15" fill="#00BFFF"/><rect x="426" y="355" width="11" height="1" fill="#EE82EE"/><rect x="446" y="330" width="2" height="38" fill="#00BFFF"/><rect x="442" y="338" width="11" height="22" fill="#00BFFF"/><rect x="442" y="359" width="11" height="1" fill="#EE82EE"/><rect x="446" y="366" width="2" height="1" fill="#EE82EE"/><rect x="462" y="347" width="2" height="39.5" fill="#00BFFF"/><rect x="458" y="360" width="11" height="4" fill="#00BFFF"/><rect x="458" y="363" width="11" height="1" fill="#EE82EE"/><rect x="462" y="384.5" width="2" height="1" fill="#EE82EE"/><rect x="478" y="316" width="2" height="50" fill="#00BFFF"/><rect x="474" y="325" width="11" height="34" fill="#00BFFF"/><rect x="474" y="358" width="11" height="1" fill="#EE82EE"/><rect x="478" y="364" width="2" height="1" fill="#EE82EE"/><rect x="494" y="264" width="2" height="71" fill="#00BFFF"/><rect x="490" y="270" width="11" height="53" fill="#00BFFF"/><rect x="490" y="322" width="11" height="1" fill="#EE82EE"/><rect x="494" y="333" width="2" height="1" fill="#EE82EE"/><rect x="510" y="262" width="2" height="55.5" fill="#00BFFF"/><rect x="506" y="273" width="11" height="36" fill="#00BFFF"/><rect x="506" y="308" width="11" height="1" fill="#EE82EE"/><rect x="510" y="315.5" width="2" height="1" fill="#EE82EE"/><rect x="526" y="307.5" width="2" height="28.5" fill="#00BFFF"/><rect x="522" y="309" width="11" height="25" fill="#00BFFF"/><rect x="522" y="333" width="11" height="1" fill="#EE82EE"/><rect x="542" y="311" width="2" height="28" fill="#00BFFF"/><rect x="538" y="322" width="11" height="10.5" fill="#00BFFF"/><rect x="538" y="331.5" width="11" height="1" fill="#EE82EE"/><rect x="542" y="337" width="2" height="1" fill="#EE82EE"/><rect x="558" y="269" width="2" height="57" fill="#00BFFF"/><rect x="554" y="281" width="11" height="41" fill="#00BFFF"/><rect x="554" y="321" width="11" height="1" fill="#EE82EE"/><rect x="558" y="324" width="2" height="1" fill="#EE82EE"/><rect x="574" y="245" width="2" height="52.5" fill="#00BFFF"/><rect x="570" y="256" width="11" height="24.5" fill="#00BFFF"/><rect x="570" y="279.5" width="11" height="1" fill="#EE82EE"/><rect x="574" y="295.5" width="2" height="1" fill="#EE82EE"/><rect x="590" y="250" width="2" height="36" fill="#00BFFF"/><rect x="586" y="255" width="11" height="12.5" fill="#00BFFF"/><rect x="586" y="266.5" width="11" height="1" fill="#EE82EE"/><rect x="590" y="284" width="2" height="1" fill="#EE82EE"/><rect x="606" y="257.5" width="2" height="29.0" fill="#00BFFF"/><rect x="602" y="259" width="11" height="7.5" fill="#00BFFF"/><rect x="602" y="265.5" width="11" height="1" fill="#EE82EE"/><rect x="606" y="284.5" width="2" height="1" fill="#EE82EE"/><rect x="622" y="240" width="2" height="34" fill="#00BFFF"/><rect x="618" y="251" width="11" height="15.5" fill="#00BFFF"/><rect x="618" y="265.5" width="11" height="1" fill="#EE82EE"/><rect x="622" y="272" width="2" height="1" fill="#EE82EE"/><rect x="638" y="252" width="2" height="29" fill="#00BFFF"/><rect x="634" y="252" width="11" height="18" fill="#00BFFF"/><rect x="634" y="269" width="11" height="1" fill="#EE82EE"/><rect x="638" y="279" width="2" height="1" fill="#EE82EE"/><rect x="654" y="252" width="2" height="34" fill="#00BFFF"/><rect x="650" y="271" width="11" height="10.5" fill="#00BFFF"/><rect x="650" y="280.5" width="11" height="1" fill="#EE82EE"/><rect x="654" y="284" width="2" height="1" fill="#EE82EE"/><rect x="670" y="264" width="2" height="23" fill="#00BFFF"/><rect x="666" y="276" width="11" height="9" fill="#00BFFF"/><rect x="666" y="284" width="11" height="1" fill="#EE82EE"/><rect x="686" y="264.5" width="2" height="22.5" fill="#00BFFF"/><rect x="682" y="273.5" width="11" height="1" fill="#EE82EE"/><rect x="702" y="272.5" width="2" height="30.5" fill="#708070"/><rect x="698" y="275" width="11" height="26" fill="#708070"/><rect x="718" y="290" width="2" height="26" fill="#708070"/><rect x="714" y="299.0" width="11" height="1" fill="#EE82EE"/><rect x="734" y="275" width="2" height="33" fill="#708070"/><rect x="730" y="292.5" width="11" height="5.5" fill="#708070"/><rect x="750" y="290" width="2" height="18" fill="#708070"/><rect x="746" y="292.5" width="11" height="3.5" fill="#708070"/><rect x="766" y="290" width="2" height="32" fill="#708070"/><rect x="762" y="293" width="11" height="19" fill="#708070"/><rect x="782" y="281" width="2" height="42" fill="#708070"/><rect x="778" y="295" width="11" height="18" fill="#708070"/><rect x="798" y="272.5" width="2" height="25.5" fill="#00BFFF"/><rect x="794" y="274" width="11" height="15" fill="#00BFFF"/><rect x="794" y="288" width="11" height="1" fill="#EE82EE"/><rect x="798" y="296" width="2" height="1" fill="#EE82EE"/><rect x="814" y="245" width="2" height="35.5" fill="#00BFFF"/><rect x="810" y="254.5" width="11" height="19.5" fill="#00BFFF"/><rect x="810" y="273" width="11" height="1" fill="#EE82EE"/><rect x="814" y="278.5" width="2" height="1" fill="#EE82EE"/><rect x="830" y="245" width="2" height="34" fill="#00BFFF"/><rect x="826" y="251" width="11" height="14" fill="#00BFFF"/><rect x="826" y="264" width="11" height="1" fill="#EE82EE"/><rect x="830" y="277" width="2" height="1" fill="#EE82EE"/><rect x="846" y="222.5" width="2" height="47.5" fill="#00BFFF"/><rect x="842" y="238" width="11" height="29.5" fill="#00BFFF"/><rect x="842" y="266.5" width="11" height="1" fill="#EE82EE"/><rect x="862" y="192" width="2" height="54" fill="#00BFFF"/><rect x="858" y="196" width="11" height="44.5" fill="#00BFFF"/><rect x="858" y="239.5" width="11" height="1" fill="#EE82EE"/><rect x="862" y="244" width="2" height="1" fill="#EE82EE"/><rect x="878" y="188" width="2" height="46" fill="#00BFFF"/><rect x="874" y="195" width="11" height="31" fill="#00BFFF"/><rect x="874" y="225" width="11" height="1" fill="#EE82EE"/><rect x="878" y="232" width="2" height="1" fill="#EE82EE"/><rect x="894" y="196" width="2" height="32" fill="#00BFFF"/><rect x="890" y="207.5" width="11" height="16.5" fill="#00BFFF"/><rect x="890" y="223" width="11" height="1" fill="#EE82EE"/><rect x="894" y="226" width="2" height="1" fill="#EE82EE"/><rect x="910" y="196" width="2" height="29" fill="#00BFFF"/><rect x="906" y="208" width="11" height="11.5" fill="#00BFFF"/><rect x="906" y="218.5" width="11" height="1" fill="#EE82EE"/><rect x="910" y="223" width="2" height="1" fill="#EE82EE"/><rect x="926" y="210" width="2" height="19" fill="#00BFFF"/><rect x="922" y="221.5" width="11" height="2.5" fill="#00BFFF"/><rect x="922" y="223" width="11" height="1" fill="#EE82EE"/><rect x="926" y="227" width="2" height="1" fill="#EE82EE"/><rect x="942" y="191" width="2" height="36" fill="#00BFFF"/><rect x="938" y="212.5" width="11" height="14.0" fill="#00BFFF"/><rect x="938" y="225.5" width="11" height="1" fill="#EE82EE"/><rect x="958" y="162" width="2" height="50.5" fill="#00BFFF"/><rect x="954" y="169" width="11" height="41.5" fill="#00BFFF"/><rect x="954" y="209.5" width="11" height="1" fill="#EE82EE"/><rect x="974" y="126" width="2" height="51.5" fill="#00BFFF"/><rect x="970" y="133" width="11" height="37.5" fill="#00BFFF"/><rect x="970" y="169.5" width="11" height="1" fill="#EE82EE"/><rect x="974" y="175.5" width="2" height="1" fill="#EE82EE"/><rect x="990" y="131" width="2" height="40" fill="#00BFFF"/><rect x="986" y="132" width="11" height="34" fill="#00BFFF"/><rect x="986" y="165" width="11" height="1" fill="#EE82EE"/><rect x="990" y="169" width="2" height="1" fill="#EE82EE"/><rect x="1006" y="152.5" width="2" height="23.5" fill="#00BFFF"/><rect x="1002" y="159" width="11" height="5" fill="#00BFFF"/><rect x="1002" y="163" width="11" height="1" fill="#EE82EE"/><rect x="1006" y="174" width="2" height="1" fill="#EE82EE"/><rect x="1022" y="92.5" width="2" height="68.5" fill="#00BFFF"/><rect x="1018" y="102.5" width="11" height="57.5" fill="#00BFFF"/><rect x="1018" y="159" width="11" height="1" fill="#EE82EE"/><rect x="1038" y="65" width="2" height="47.5" fill="#00BFFF"/><rect x="1034" y="86" width="11" height="18" fill="#00BFFF"/><rect x="1034" y="103" width="11" height="1" fill="#EE82EE"/><rect x="1038" y="110.5" width="2" height="1" fill="#EE82EE"/><rect x="1054" y="70" width="2" height="39" fill="#00BFFF"/><rect x="1050" y="84.5" width="11" height="21.5" fill="#00BFFF"/><rect x="1050" y="105" width="11" height="1" fill="#EE82EE"/><rect x="1070" y="100" width="2" height="25" fill="#00BFFF"/><rect x="1066" y="103" width="11" height="18" fill="#00BFFF"/><rect x="1066" y="120" width="11" height="1" fill="#EE82EE"/><rect x="1070" y="123" width="2" height="1" fill="#EE82EE"/><rect x="1086" y="121" width="2" height="35.5" fill="#00BFFF"/><rect x="1082" y="123" width="11" height="24.5" fill="#00BFFF"/><rect x="1082" y="146.5" width="11" height="1" fill="#EE82EE"/><rect x="1086" y="154.5" width="2" height="1" fill="#EE82EE"/><rect x="1102" y="130" width="2" height="22.5" fill="#00BFFF"/><rect x="1098" y="134.5" width="11" height="10.0" fill="#00BFFF"/><rect x="1098" y="143.5" width="11" height="1" fill="#EE82EE"/><rect x="1102" y="150.5" width="2" height="1" fill="#EE82EE"/><rect x="1118" y="102.5" width="2" height="30.5" fill="#00BFFF"/><rect x="1114" y="108" width="11" height="24.5" fill="#00BFFF"/><rect x="1114" y="131.5" width="11" height="1" fill="#EE82EE"/><rect x="1134" y="97" width="2" height="40.5" fill="#00BFFF"/><rect x="1130" y="110" width="11" height="25" fill="#00BFFF"/><rect x="1130" y="134" width="11" height="1" fill="#EE82EE"/><rect x="1150" y="122" width="2" height="35.5" fill="#708070"/><rect x="1146" y="135" width="11" height="18" fill="#708070"/><rect x="1166" y="130" width="2" height="45" fill="#708070"/><rect x="1162" y="133" width="11" height="19" fill="#708070"/><rect x="1182" y="110" width="2" height="29" fill="#708070"/><rect x="1178" y="128.5" width="11" height="1" fill="#EE82EE"/><rect x="1198" y="117" width="2" height="25" fill="#708070"/><rect x="1194" y="117" width="11" height="10" fill="#708070"/><rect x="1214" y="108" width="2" height="16.5" fill="#00BFFF"/><rect x="1210" y="112" width="11" height="11" fill="#00BFFF"/><rect x="1210" y="122" width="11" height="1" fill="#EE82EE"/></g>
<polyline points="-1.5,465.5 15.5,441.5 30.5,432.5 46.5,427.5 49.5,422.5 52.5,410.5 61.5,372.5 79.5,326.5 95.5,325.5 111.5,287.5 192.5,287.5 207.5,264.5 220.5,262.5 272.5,262.5 287.5,245.5 320.5,245.5 335.5,240.5 545.5,240.5 560.5,219.5 575.5,192.5 589.5,188.5 655.5,188.5 687.5,126.5 719.5,126.5 743.5,80.5 750.5,66.5" fill="none" stroke="#FF9000" stroke-width="1.1" stroke-linejoin="miter" stroke-linecap="butt"/>
<polyline points="-1.5,672.5 163.5,672.5 175.5,667.5 191.5,643.5 263.5,623.5 272.5,618.5 287.5,588.5 320.5,588.5 335.5,568.5 560.5,568.5 575.5,558.5 591.5,459.5 622.5,443.5 636.5,399.5 639.5,389.5 668.5,386.5 735.5,386.5 766.5,348.5 789.5,348.5 810.5,341.5 846.5,322.5 1216.5,322.5" fill="none" stroke="#FF9000" stroke-width="1.1" stroke-linejoin="miter" stroke-linecap="butt"/>
<polyline points="-2,651 37,637 87.8,620 112.9,608.4 138,598.3 163,592 188,587 216,584.5 250,579 270,575 287.5,571.5 325,560 338,552 375.6,530.3 416,505.2 432,496 480,471 515.6,452 556,435.3 575,423.5 600,409.5 625,398 650,387 675,376 700,367.5 732,362 775,350.5 807.5,342 850,328.5 875,321 900,312.5 925,303.5 950,294.5 975,287.5 1000,276 1020,265 1040.6,252 1068.2,239.1 1100,229.4 1135,219.2 1175,207.5 1200,200.2 1216.2,195.4" fill="none" stroke="#D6CDB4" stroke-width="5.5" stroke-linejoin="round" stroke-linecap="round"/>
<polyline points="-2,651 37,637 87.8,620 112.9,608.4 138,598.3 163,592 188,587 216,584.5 250,579 270,575 287.5,571.5 325,560 338,552 375.6,530.3 416,505.2 432,496 480,471 515.6,452 556,435.3 575,423.5 600,409.5 625,398 650,387 675,376 700,367.5 732,362 775,350.5 807.5,342 850,328.5 875,321 900,312.5 925,303.5 950,294.5 975,287.5 1000,276 1020,265 1040.6,252 1068.2,239.1 1100,229.4 1135,219.2 1175,207.5 1200,200.2 1216.2,195.4" fill="none" stroke="#0000FF" stroke-width="2.9" stroke-linejoin="round" stroke-linecap="round"/>
<polyline points="-2,607.6 0,606.5 30.1,589.5 41.4,582 55.2,568.2 70.2,556.9 87.8,544.4 104.1,531.8 112.9,526.8 125.4,522.4 138,521.5 158,523.5 175.6,528 190.7,533.1 207,535.6 216,535.3 240,529.7 256.4,524 270.2,520.3 290,514 309.1,507.7 325.4,493.9 341.7,478.9 358,461.3 365.1,450.4 377.6,430.3 392.7,410.2 402.7,399 417.8,390.2 434.1,380.8 450.4,376.4 465.4,372 478,367 490.5,353.8 503.1,342.5 511.3,337.8 527.6,335.3 550.2,330.3 560.2,321.5 575.3,307.7 591.6,298.9 607.9,291.4 624.2,283.2 638,280.7 656.8,280.1 675.6,280.5 690,282 706,286.5 725,290.5 745,291.5 768,292.5 790.4,290.2 805.4,286.5 815.4,281.5 828,278.3 840.5,273.9 850.6,268.9 856.8,260.1 865.6,252.6 878.2,248.2 890.7,243.2 906,237.6 930,230 955.3,219 971.6,201.5 990.4,192.7 1005.4,185.8 1021.7,170.1 1038,152.5 1053.1,142.5 1071.5,138.5 1087.8,138 1102.8,138.5 1119.1,135 1134.2,132.5 1150.5,136.5 1166.8,139.5 1183.1,136 1199.4,134 1215.7,129.5" fill="none" stroke="#8080FF" stroke-width="2.6" stroke-linejoin="round" stroke-linecap="round"/>
<polyline points="-2,613.3 0,612.1 30.1,594.6 47.7,587 65.2,572 80.3,562 95.3,548.1 111.6,539.4 126.7,527.4 141.7,523.7 158,523.3 175.6,526.2 190.7,530.6 207,533.1 216,533.3 240.1,531 256.4,527.8 271.5,526 287.8,526.3 304.1,521 320.4,505.2 336.7,490.2 353,473.9 368.5,454.5 382.6,432.8 399,412.8 415.3,396.4 431.6,385.2 447.9,378.9 464.2,375.1 480.5,369.5 495.5,355.1 511.6,342.6 527.8,338.5 543.9,335.3 559,327.8 575.3,314 591.6,303.9 607.9,296.4 624.2,288.9 640.5,285.1 655.5,283.2 671.8,281.4 687,280.1 702,281.7 718.9,284.6 735.2,286.5 751.5,288.4 767.8,290.9 784.1,293.4 799.1,292.1 815.4,286.5 831.7,281.5 848.1,273.9 863.1,261.4 879.6,251 896,243 911.4,236 927.7,232.2 944,228.4 960.3,220.3 975.3,205.2 991.6,195.2 1007.9,187.7 1023.5,175 1039.5,158 1055.4,143.8 1071.7,139.3 1087.8,138.3 1102.8,138.9 1119.1,135.2 1134.2,132 1150.5,133.9 1166.8,137 1183.1,133.9 1199.4,133.3 1215.7,128.9" fill="none" stroke="#D6CDB4" stroke-width="5.5" stroke-linejoin="round" stroke-linecap="round"/>
<polyline points="-2,613.3 0,612.1 30.1,594.6 47.7,587 65.2,572 80.3,562 95.3,548.1 111.6,539.4 126.7,527.4 141.7,523.7 158,523.3 175.6,526.2 190.7,530.6 207,533.1 216,533.3 240.1,531 256.4,527.8 271.5,526 287.8,526.3 304.1,521 320.4,505.2 336.7,490.2 353,473.9 368.5,454.5 382.6,432.8 399,412.8 415.3,396.4 431.6,385.2 447.9,378.9 464.2,375.1 480.5,369.5 495.5,355.1 511.6,342.6 527.8,338.5 543.9,335.3 559,327.8 575.3,314 591.6,303.9 607.9,296.4 624.2,288.9 640.5,285.1 655.5,283.2 671.8,281.4 687,280.1 702,281.7 718.9,284.6 735.2,286.5 751.5,288.4 767.8,290.9 784.1,293.4 799.1,292.1 815.4,286.5 831.7,281.5 848.1,273.9 863.1,261.4 879.6,251 896,243 911.4,236 927.7,232.2 944,228.4 960.3,220.3 975.3,205.2 991.6,195.2 1007.9,187.7 1023.5,175 1039.5,158 1055.4,143.8 1071.7,139.3 1087.8,138.3 1102.8,138.9 1119.1,135.2 1134.2,132 1150.5,133.9 1166.8,137 1183.1,133.9 1199.4,133.3 1215.7,128.9" fill="none" stroke="#0000FF" stroke-width="2.9" stroke-linejoin="round" stroke-linecap="round"/>
<polyline points="158,523.3 175.6,526.2 190.7,530.6 207,533.1 216,533.3 240.1,531" fill="none" stroke="#DC143C" stroke-width="3.2" stroke-linejoin="round" stroke-linecap="butt"/>
<polyline points="271.5,526 287.8,526.3" fill="none" stroke="#DC143C" stroke-width="3.2" stroke-linejoin="round" stroke-linecap="butt"/>
<polyline points="687,280.1 702,281.7 718.9,284.6 735.2,286.5 751.5,288.4 767.8,290.9 784.1,293.4" fill="none" stroke="#DC143C" stroke-width="3.2" stroke-linejoin="round" stroke-linecap="butt"/>
<polyline points="1134.2,132 1150.5,133.9 1166.8,137 1183.1,133.9 1199.4,133.3" fill="none" stroke="#DC143C" stroke-width="3.2" stroke-linejoin="round" stroke-linecap="butt"/>
<polyline points="-2,193.5 13,189 80,189 96,160 111,127 143,127 160,90 176,65.5 1216,65.5" fill="none" stroke="#FF8C00" stroke-width="3" stroke-linejoin="round" stroke-linecap="round"/>
<polyline points="797.3,675 820,673.9 859.8,663.2 939.6,646.5 1019.4,627.8 1099.2,607.9 1152.4,595.9 1216.3,578.1" fill="none" stroke="#FFD700" stroke-width="3" stroke-linejoin="round" stroke-linecap="round"/>
<line x1="-2" y1="320" x2="1039" y2="65.5" stroke="#1E90FF" stroke-width="4"/>
<line x1="-2" y1="404.6" x2="1039" y2="66" stroke="#FFFFFF" stroke-width="3.1"/>
<polyline points="-2,585 8.8,577 25,562 41.4,549.4 59,536.9 75.3,526.8 91.6,518 110.4,510.5 125.4,509.9 135.5,509.9 150.5,514.9 166.8,520.5 181.9,526 200.7,529 215,529.7 231.4,528.4 241.4,526.6 256.4,520.3 271.5,511.5 287.8,499 304.1,481.4 319.2,461.3 335.5,440 340,434.1 352.5,412.8 365.1,393.9 381.4,376.4 400.2,360.1 415.3,352.5 434.1,346.3 459.2,340 475,336 500,325.9 525.1,314 559,297.7 591.6,282.6 624.2,272.6 654.3,272.6 670.6,275.7 685.6,280.1 706.3,287.1 725.1,291.5 740.2,292.1 767.8,292.1 777.8,289 794.1,282.7 815.4,268.9 831.7,258.9 848.1,247.6 865.6,235.7 883.2,226.3 896.3,220.3 912.6,212.8 927.7,205.2 942.7,197.1 960.3,185.8 975.3,172.6 991.6,158.8 1005.4,148.8 1010,143.9 1022.5,132.6 1038.9,123.2 1055.2,119.1 1071.5,119.1 1087.8,120.7 1102.8,122.9 1119.1,125.8 1134.2,128.3 1150.5,130.1 1166.8,130.4 1183.1,130.1 1199.4,129.5 1215.7,127.6" fill="none" stroke="#FFFFFF" stroke-width="2" stroke-linejoin="round" stroke-linecap="round"/>
<line x1="0" y1="156.5" x2="1729" y2="156.5" stroke="#00FFFF" stroke-width="1" shape-rendering="crispEdges"/>
<line x1="0" y1="491.5" x2="1729" y2="491.5" stroke="#FFFFFF" stroke-width="1" shape-rendering="crispEdges"/>
<line x1="0" y1="404.5" x2="1729" y2="404.5" stroke="#00FF00" stroke-width="1" stroke-dasharray="3 3" shape-rendering="crispEdges"/>
<line x1="905" y1="374.5" x2="349" y2="440.5" stroke="#fff" stroke-width="1" stroke-dasharray="18 6"/>
<line x1="1055.5" y1="357.5" x2="879" y2="231.5" stroke="#fff" stroke-width="1" stroke-dasharray="22 7.4"/>
<line x1="1232" y1="385" x2="1408" y2="646" stroke="#fff" stroke-width="1" stroke-dasharray="21.7 7.2"/>
<g shape-rendering="crispEdges">
<line x1="1140" y1="97.5" x2="1248" y2="97.5" stroke="#fff" stroke-width="1" stroke-dasharray="18 6"/>
<line x1="1254" y1="98.5" x2="1360" y2="98.5" stroke="#fff" stroke-width="1" stroke-dasharray="18 6" stroke-dashoffset="-2"/>
<line x1="1171" y1="175.5" x2="1354" y2="175.5" stroke="#fff" stroke-width="1" stroke-dasharray="18 6"/>
<line x1="1091" y1="157.5" x2="1369" y2="157.5" stroke="#fff" stroke-width="1" stroke-dasharray="18 6"/>
</g>
<circle cx="1038.8" cy="63" r="24.3" fill="#FFFF00"/><circle cx="1038.8" cy="63" r="19.3" fill="#FF69B4"/><circle cx="1038.8" cy="63" r="12.8" fill="#E6E6FA"/><circle cx="1038.8" cy="63" r="6.5" fill="#FF69B4"/>
<line x1="990" y1="77.5" x2="1039" y2="65.5" stroke="#1E90FF" stroke-width="4"/>
<line x1="990" y1="82.4" x2="1030" y2="69.4" stroke="#FFFFFF" stroke-width="3.1"/>
<line x1="1015" y1="65.5" x2="1033" y2="65.5" stroke="#FF8C00" stroke-width="3"/>
<line x1="1046" y1="65.5" x2="1064" y2="65.5" stroke="#FF8C00" stroke-width="3"/>
<circle cx="1038.8" cy="63" r="6.5" fill="#FF69B4"/>
<g shape-rendering="crispEdges"><rect x="1038" y="65" width="2" height="22" fill="#00BFFF"/><rect x="1054" y="70" width="2" height="16" fill="#00BFFF"/><rect x="1034" y="86" width="11" height="3" fill="#00BFFF"/><rect x="1050" y="84.5" width="11" height="4" fill="#00BFFF"/></g>
<path d="M0,-7 L-5.8,-0.4 L-5.8,1.2 L-4.6,1.7 L-1.7,-1.4 L-1.7,7 L1.7,7 L1.7,-1.4 L4.6,1.7 L5.8,1.2 L5.8,-0.4 Z" transform="translate(47,613.5)" fill="#fff"/>
<path d="M0,-7 L-5.8,-0.4 L-5.8,1.2 L-4.6,1.7 L-1.7,-1.4 L-1.7,7 L1.7,7 L1.7,-1.4 L4.6,1.7 L5.8,1.2 L5.8,-0.4 Z" transform="translate(95,540.5)" fill="#fff"/>
<path d="M0,-7 L-5.8,-0.4 L-5.8,1.2 L-4.6,1.7 L-1.7,-1.4 L-1.7,7 L1.7,7 L1.7,-1.4 L4.6,1.7 L5.8,1.2 L5.8,-0.4 Z" transform="translate(271,578.5)" fill="#fff"/>
<path d="M0,-7 L-5.8,-0.4 L-5.8,1.2 L-4.6,1.7 L-1.7,-1.4 L-1.7,7 L1.7,7 L1.7,-1.4 L4.6,1.7 L5.8,1.2 L5.8,-0.4 Z" transform="translate(303,591.5)" fill="#fff"/>
<path d="M0,-7 L-5.8,-0.4 L-5.8,1.2 L-4.6,1.7 L-1.7,-1.4 L-1.7,7 L1.7,7 L1.7,-1.4 L4.6,1.7 L5.8,1.2 L5.8,-0.4 Z" transform="translate(495,367.5)" fill="#fff"/>
<path d="M0,-7 L-5.8,-0.4 L-5.8,1.2 L-4.6,1.7 L-1.7,-1.4 L-1.7,7 L1.7,7 L1.7,-1.4 L4.6,1.7 L5.8,1.2 L5.8,-0.4 Z" transform="translate(559,367.5)" fill="#fff"/>
<path d="M0,-7 L-5.8,-0.4 L-5.8,1.2 L-4.6,1.7 L-1.7,-1.4 L-1.7,7 L1.7,7 L1.7,-1.4 L4.6,1.7 L5.8,1.2 L5.8,-0.4 Z" transform="translate(799,323.5)" fill="#fff"/>
<path d="M0,-7 L-5.8,-0.4 L-5.8,1.2 L-4.6,1.7 L-1.7,-1.4 L-1.7,7 L1.7,7 L1.7,-1.4 L4.6,1.7 L5.8,1.2 L5.8,-0.4 Z" transform="translate(847,295.0)" fill="#fff"/>
<path d="M0,-7 L-5.8,-0.4 L-5.8,1.2 L-4.6,1.7 L-1.7,-1.4 L-1.7,7 L1.7,7 L1.7,-1.4 L4.6,1.7 L5.8,1.2 L5.8,-0.4 Z" transform="translate(895,251.5)" fill="#fff"/>
<path d="M0,-7 L-5.8,-0.4 L-5.8,1.2 L-4.6,1.7 L-1.7,-1.4 L-1.7,7 L1.7,7 L1.7,-1.4 L4.6,1.7 L5.8,1.2 L5.8,-0.4 Z" transform="translate(959,235.0)" fill="#fff"/>
<path d="M0,-7 L-5.8,-0.4 L-5.8,1.2 L-4.6,1.7 L-1.7,-1.4 L-1.7,7 L1.7,7 L1.7,-1.4 L4.6,1.7 L5.8,1.2 L5.8,-0.4 Z" transform="translate(1023,186.5)" fill="#fff"/>
<path d="M0,-7 L-5.8,-0.4 L-5.8,1.2 L-4.6,1.7 L-1.7,-1.4 L-1.7,7 L1.7,7 L1.7,-1.4 L4.6,1.7 L5.8,1.2 L5.8,-0.4 Z" transform="translate(1119,163.5)" fill="#fff"/>
<path d="M0,-7 L-5.8,-0.4 L-5.8,1.2 L-4.6,1.7 L-1.7,-1.4 L-1.7,7 L1.7,7 L1.7,-1.4 L4.6,1.7 L5.8,1.2 L5.8,-0.4 Z" transform="translate(1199,166.5)" fill="#fff"/>
<g transform="translate(735.5,272.5)" stroke="#FFE600" stroke-width="3.2" stroke-linecap="round"><line x1="-4.5" y1="-4" x2="4.5" y2="4"/><line x1="-4.5" y1="4" x2="4.5" y2="-4"/></g>
<text x="147" y="504" font-family="'Liberation Sans', sans-serif" font-size="16" font-weight="normal" fill="#fff" text-anchor="start" textLength="90" lengthAdjust="spacingAndGlyphs" stroke="#fff" stroke-width="0.3" xml:space="preserve">(down slope)</text>
<text x="318" y="472.5" font-family="'Liberation Sans', sans-serif" font-size="16" font-weight="normal" fill="#fff" text-anchor="start" textLength="69" lengthAdjust="spacingAndGlyphs" stroke="#fff" stroke-width="0.3" xml:space="preserve">(up slope)</text>
<text x="525" y="353" font-family="'Liberation Sans', sans-serif" font-size="16" font-weight="normal" fill="#fff" text-anchor="start" textLength="70" lengthAdjust="spacingAndGlyphs" stroke="#fff" stroke-width="0.3" xml:space="preserve">(up slope)</text>
<text x="675" y="261" font-family="'Liberation Sans', sans-serif" font-size="16" font-weight="normal" fill="#fff" text-anchor="start" textLength="89.5" lengthAdjust="spacingAndGlyphs" stroke="#fff" stroke-width="0.3" xml:space="preserve">(down slope)</text>
<text x="862" y="273.5" font-family="'Liberation Sans', sans-serif" font-size="16" font-weight="normal" fill="#fff" text-anchor="start" textLength="68.5" lengthAdjust="spacingAndGlyphs" stroke="#fff" stroke-width="0.3" xml:space="preserve">(up slope)</text>
<text x="1131" y="197.5" font-family="'Liberation Sans', sans-serif" font-size="16" font-weight="normal" fill="#fff" text-anchor="start" textLength="73" lengthAdjust="spacingAndGlyphs" stroke="#fff" stroke-width="0.3" xml:space="preserve">(flat slope)</text>
<text x="908" y="377" font-family="'Liberation Sans', sans-serif" font-size="19" font-weight="normal" fill="#fff" text-anchor="start" textLength="486" lengthAdjust="spacingAndGlyphs" stroke="#fff" stroke-width="0.3" xml:space="preserve">Look the value of Tma slope and Look the mini Tma slope</text>
<text x="1352" y="661.5" font-family="'Liberation Sans', sans-serif" font-size="19" font-weight="normal" fill="#fff" text-anchor="start" textLength="152.5" lengthAdjust="spacingAndGlyphs" stroke="#fff" stroke-width="0.3" xml:space="preserve">TMA Slope = 2.64</text>
<text x="1358" y="204.5" font-family="'Liberation Mono', monospace" font-size="17" font-weight="bold" fill="#87CEFA" text-anchor="start" textLength="49" lengthAdjust="spacingAndGlyphs" xml:space="preserve">38.2%</text>
<text x="1358" y="418.5" font-family="'Liberation Mono', monospace" font-size="17" font-weight="bold" fill="#87CEFA" text-anchor="start" textLength="49" lengthAdjust="spacingAndGlyphs" xml:space="preserve">21.4%</text>
<text x="1367.5" y="565" font-family="'Liberation Sans', sans-serif" font-size="16.5" font-weight="bold" fill="#00E5FF" text-anchor="start" textLength="29" lengthAdjust="spacingAndGlyphs" stroke="#00E5FF" stroke-width="0.4" xml:space="preserve">BUY</text>
<text x="1719.5" y="669.5" font-family="'Liberation Sans', sans-serif" font-size="14" font-weight="bold" fill="#00FA9A" text-anchor="start" stroke="#00FA9A" stroke-width="0.3" xml:space="preserve">UP</text>
<rect x="1230" y="511" width="32" height="1" fill="#2E8B57"/>
<text x="1229.5" y="526" font-family="'Liberation Sans', sans-serif" font-size="17" font-weight="normal" fill="#808080" text-anchor="start" textLength="36.5" lengthAdjust="spacingAndGlyphs" xml:space="preserve">PWH</text>
<rect x="1231" y="606" width="32" height="1" fill="#FF0000"/>
<text x="1230.5" y="621" font-family="'Liberation Sans', sans-serif" font-size="17" font-weight="normal" fill="#808080" text-anchor="start" textLength="33" lengthAdjust="spacingAndGlyphs" xml:space="preserve">PDH</text>
<text x="-5.5" y="58.3" font-family="'Liberation Sans', sans-serif" font-size="10.5" font-weight="normal" fill="#B4B4B4" text-anchor="start" textLength="57.5" lengthAdjust="spacingAndGlyphs" xml:space="preserve">139606544 tp</text>
<text x="-5.5" y="104.3" font-family="'Liberation Sans', sans-serif" font-size="10.5" font-weight="normal" fill="#B4B4B4" text-anchor="start" textLength="86.5" lengthAdjust="spacingAndGlyphs" xml:space="preserve">139606544 buy 0.10</text>
<text x="-5.5" y="157.8" font-family="'Liberation Sans', sans-serif" font-size="10.5" font-weight="normal" fill="#B4B4B4" text-anchor="start" textLength="55.5" lengthAdjust="spacingAndGlyphs" xml:space="preserve">139606544 sl</text>
<line x1="0" y1="156.5" x2="60" y2="156.5" stroke="#00FFFF" stroke-width="1" shape-rendering="crispEdges"/>
<text x="-1" y="14" font-family="'Liberation Sans', sans-serif" font-size="10.5" font-weight="normal" fill="#B4B4B4" text-anchor="start" textLength="38" lengthAdjust="spacingAndGlyphs" xml:space="preserve">US30,M5</text>
<rect x="3.5" y="16.5" width="59" height="19" rx="1" fill="#696969" stroke="#FFD700" stroke-width="1"/>
<text x="8" y="31" font-family="'Liberation Sans', sans-serif" font-size="13" font-weight="normal" fill="#F0F0F0" text-anchor="start" textLength="46.5" lengthAdjust="spacingAndGlyphs" xml:space="preserve">Channel</text>
<rect x="61.5" y="5" width="154.5" height="16" fill="#A52222"/>
<text x="69" y="18" font-family="'Liberation Sans', sans-serif" font-size="14" font-weight="bold" fill="#fff" text-anchor="start" textLength="138" lengthAdjust="spacingAndGlyphs" stroke="#fff" stroke-width="0.5" xml:space="preserve">HONG KONG  19:59</text>
<rect x="218" y="5" width="132" height="16" fill="#1478DC"/>
<text x="228.5" y="18" font-family="'Liberation Sans', sans-serif" font-size="14" font-weight="bold" fill="#fff" text-anchor="start" textLength="112.5" lengthAdjust="spacingAndGlyphs" stroke="#fff" stroke-width="0.5" xml:space="preserve">LONDON   12:59</text>
<rect x="352" y="5" width="149" height="16" fill="#A52222"/>
<text x="363" y="18" font-family="'Liberation Sans', sans-serif" font-size="14" font-weight="bold" fill="#fff" text-anchor="start" textLength="127" lengthAdjust="spacingAndGlyphs" stroke="#fff" stroke-width="0.5" xml:space="preserve">NEW YORK  07:59</text>
<g shape-rendering="crispEdges"><rect x="12" y="672" width="6" height="4" fill="#4169E1"/><rect x="28" y="672" width="6" height="4" fill="#4169E1"/><rect x="44" y="672" width="6" height="4" fill="#4169E1"/><rect x="60" y="672" width="6" height="4" fill="#4169E1"/><rect x="76" y="672" width="6" height="4" fill="#4169E1"/><rect x="92" y="672" width="6" height="4" fill="#4169E1"/><rect x="108" y="672" width="6" height="4" fill="#4169E1"/><rect x="124" y="672" width="6" height="4" fill="#4169E1"/><rect x="140" y="672" width="6" height="4" fill="#4169E1"/><rect x="156" y="672" width="6" height="4" fill="#4169E1"/><rect x="172" y="672" width="6" height="4" fill="#4169E1"/><rect x="188" y="672" width="6" height="4" fill="#4169E1"/><rect x="204" y="672" width="6" height="4" fill="#4169E1"/><rect x="220" y="672" width="6" height="4" fill="#4169E1"/><rect x="236" y="672" width="6" height="4" fill="#4169E1"/><rect x="252" y="672" width="6" height="4" fill="#4169E1"/><rect x="268" y="672" width="6" height="4" fill="#4169E1"/><rect x="284" y="672" width="6" height="4" fill="#4169E1"/><rect x="300" y="672" width="6" height="4" fill="#4169E1"/><rect x="316" y="672" width="6" height="4" fill="#4169E1"/><rect x="332" y="672" width="6" height="4" fill="#4169E1"/><rect x="348" y="672" width="6" height="4" fill="#4169E1"/><rect x="364" y="672" width="6" height="4" fill="#4169E1"/><rect x="380" y="672" width="6" height="4" fill="#4169E1"/><rect x="396" y="672" width="6" height="4" fill="#4169E1"/><rect x="412" y="672" width="6" height="4" fill="#4169E1"/><rect x="428" y="672" width="6" height="4" fill="#4169E1"/><rect x="444" y="672" width="6" height="4" fill="#4169E1"/><rect x="460" y="672" width="6" height="4" fill="#4169E1"/><rect x="476" y="672" width="6" height="4" fill="#4169E1"/><rect x="492" y="672" width="6" height="4" fill="#4169E1"/><rect x="508" y="672" width="6" height="4" fill="#4169E1"/><rect x="524" y="672" width="6" height="4" fill="#4169E1"/><rect x="540" y="672" width="6" height="4" fill="#4169E1"/><rect x="556" y="672" width="6" height="4" fill="#4169E1"/><rect x="572" y="672" width="6" height="4" fill="#4169E1"/><rect x="588" y="672" width="6" height="4" fill="#4169E1"/><rect x="604" y="672" width="6" height="4" fill="#4169E1"/><rect x="620" y="672" width="6" height="4" fill="#4169E1"/><rect x="636" y="672" width="6" height="4" fill="#4169E1"/><rect x="652" y="672" width="6" height="4" fill="#4169E1"/><rect x="668" y="672" width="6" height="4" fill="#4169E1"/><rect x="684" y="672" width="6" height="4" fill="#4169E1"/><rect x="700" y="672" width="6" height="4" fill="#4169E1"/><rect x="716" y="672" width="6" height="4" fill="#4169E1"/><rect x="732" y="672" width="6" height="4" fill="#4169E1"/><rect x="748" y="672" width="6" height="4" fill="#4169E1"/><rect x="764" y="672" width="6" height="4" fill="#4169E1"/><rect x="780" y="672" width="6" height="4" fill="#4169E1"/><rect x="796" y="672" width="6" height="4" fill="#4169E1"/><rect x="812" y="672" width="6" height="4" fill="#4169E1"/><rect x="828" y="672" width="6" height="4" fill="#4169E1"/><rect x="844" y="672" width="6" height="4" fill="#4169E1"/><rect x="860" y="672" width="6" height="4" fill="#4169E1"/><rect x="876" y="672" width="6" height="4" fill="#4169E1"/><rect x="892" y="672" width="6" height="4" fill="#4169E1"/><rect x="908" y="672" width="6" height="4" fill="#4169E1"/><rect x="924" y="672" width="6" height="4" fill="#4169E1"/><rect x="940" y="672" width="6" height="4" fill="#4169E1"/><rect x="956" y="672" width="6" height="4" fill="#4169E1"/><rect x="972" y="672" width="6" height="4" fill="#4169E1"/><rect x="988" y="672" width="6" height="4" fill="#4169E1"/><rect x="1004" y="672" width="6" height="4" fill="#4169E1"/><rect x="1020" y="672" width="6" height="4" fill="#4169E1"/><rect x="1036" y="672" width="6" height="4" fill="#4169E1"/><rect x="1052" y="672" width="6" height="4" fill="#4169E1"/><rect x="1068" y="672" width="6" height="4" fill="#4169E1"/><rect x="1084" y="672" width="6" height="4" fill="#4169E1"/><rect x="1100" y="672" width="6" height="4" fill="#4169E1"/><rect x="1116" y="672" width="6" height="4" fill="#4169E1"/><rect x="1132" y="672" width="6" height="4" fill="#4169E1"/><rect x="1148" y="672" width="6" height="4" fill="#4169E1"/><rect x="1164" y="672" width="6" height="4" fill="#4169E1"/><rect x="1180" y="672" width="6" height="4" fill="#4169E1"/><rect x="1196" y="672" width="6" height="4" fill="#4169E1"/><rect x="1212" y="672" width="6" height="4" fill="#4169E1"/></g>
<polyline points="797.3,675 820,673.9 859.8,663.2" fill="none" stroke="#FFD700" stroke-width="3" stroke-linejoin="round" stroke-linecap="round"/>
<rect x="-1" y="577.5" width="29" height="22" fill="#303030" stroke="#5a5a5a" stroke-width="1"/>
<text x="-2.5" y="594" font-family="'Liberation Sans', sans-serif" font-size="13.5" font-weight="normal" fill="#808080" text-anchor="start" textLength="25" lengthAdjust="spacingAndGlyphs" xml:space="preserve">OFF</text>
<rect x="0" y="624" width="292.5" height="19" fill="#0000FF"/>
<text x="-3" y="640" font-family="'Liberation Sans', sans-serif" font-size="17.6" font-weight="bold" fill="#fff" text-anchor="start" textLength="288" lengthAdjust="spacingAndGlyphs" stroke="#fff" stroke-width="0.9" xml:space="preserve">M5 UP TREND - BUYS ONLY</text>
<rect x="-4" y="651" width="67" height="25" rx="2.5" fill="#8B0000"/>
<text x="-3.5" y="671" font-family="'Liberation Sans', sans-serif" font-size="20.5" font-weight="bold" fill="#C0C0C0" text-anchor="start" textLength="58.5" lengthAdjust="spacingAndGlyphs" stroke="#C0C0C0" stroke-width="0.9" xml:space="preserve">ZZALERT</text>
<rect x="83" y="651" width="70" height="25" rx="2.5" fill="#8B0000"/>
<text x="91.5" y="671" font-family="'Liberation Sans', sans-serif" font-size="20.5" font-weight="bold" fill="#C0C0C0" text-anchor="start" textLength="50" lengthAdjust="spacingAndGlyphs" stroke="#C0C0C0" stroke-width="0.9" xml:space="preserve">ZZmini</text>
</g>
<rect x="0" y="2" width="1729" height="1" fill="#a0a0a0"/>
<g clip-path="url(#p1)">
<text x="-1" y="690.5" font-family="'Liberation Sans', sans-serif" font-size="10.5" font-weight="normal" fill="#A0A0A0" text-anchor="start" textLength="177" lengthAdjust="spacingAndGlyphs" xml:space="preserve">rch : VOLATILITY LOW 39.1673 103.0066</text>
<line x1="0" y1="723.5" x2="1216" y2="723.5" stroke="#00A000" stroke-width="1" stroke-dasharray="3 3" shape-rendering="crispEdges"/>
<line x1="0" y1="734.5" x2="1729" y2="734.5" stroke="#FFFFFF" stroke-width="1" stroke-dasharray="3 3" shape-rendering="crispEdges"/>
<line x1="0" y1="745.5" x2="1216" y2="745.5" stroke="#C00000" stroke-width="1" stroke-dasharray="3 3" shape-rendering="crispEdges"/>
<polyline points="-2,692 23,686.5 87,685 119,682.7 127,682.7 139,689 160,689 190,711 207.5,716 240,717 270,711 287.5,713.8 337.5,702.5 370,693.8 400,691 432,688.8 447,688.8 462,693 482,694.5 507,692.5 552,690.5 597,690 617,688 639.5,688 657,692.5 687,695 707,703.8 719.5,707.5 739.5,708.8 769.5,716.2 782,715.5 864,701.2 909,696.2 929,696.2 944,699.5 989,693.8 1034,689.2 1049,688 1089,688 1101.5,692.5 1121.5,696.2 1151.5,705 1159,703.8 1191.5,703.8 1194,705 1206.5,705 1209,704 1216.5,704" fill="none" stroke="#1E90FF" stroke-width="3" stroke-linejoin="round" stroke-linecap="round"/>
<polyline points="-2,729 32.5,729 62.5,718.8 80,725 100,722 110,722.5 130,730 165,733.8 270,734.5 279,736 287.5,737 305,730.8 337.5,730.8 355,723 370,722 385,715 400,715 415,725 432,723.8 444.5,728 469.5,727.5 479.5,725 495.8,717.5 512,727.5 524.5,730.5 544.5,730.5 559.5,726.8 574.5,725.5 589.5,729.2 622,729.2 639.5,733 750.8,733 764.5,735.5 784.5,735.5 787,735 807,733 822,733.8 842,733.8 857,728 864,727 876.5,730.5 886.5,730.5 889,729.5 901.5,729.5 905,730.5 944,730.5 974,717.5 990,727 1007.8,727 1024,715.8 1040,715.8 1056.5,723.2 1084,731.2 1106.5,731.2 1114,730 1121.5,730 1132.8,733 1216.5,733" fill="none" stroke="#00F080" stroke-width="1.8" stroke-linejoin="round" stroke-linecap="round"/>
<polyline points="270,734.5 279,736.5 287.5,737" fill="none" stroke="#DC143C" stroke-width="2.2" stroke-linejoin="round" stroke-linecap="round"/>
<polyline points="751,733 764.5,735.5 784.5,735.5" fill="none" stroke="#DC143C" stroke-width="2.2" stroke-linejoin="round" stroke-linecap="round"/>
</g>
<rect x="0" y="792" width="1223" height="45" fill="#0055AA"/>
<rect x="0" y="840" width="1223" height="27" fill="#0055AA"/>
<g shape-rendering="crispEdges"><rect x="7" y="792" width="1" height="45" fill="#000000"/><rect x="7" y="840" width="1" height="27" fill="#000000"/><rect x="23" y="792" width="1" height="45" fill="#000000"/><rect x="23" y="840" width="1" height="27" fill="#000000"/><rect x="39" y="792" width="1" height="45" fill="#000000"/><rect x="39" y="840" width="1" height="27" fill="#000000"/><rect x="55" y="792" width="1" height="45" fill="#000000"/><rect x="55" y="840" width="1" height="27" fill="#000000"/><rect x="71" y="792" width="1" height="45" fill="#000000"/><rect x="71" y="840" width="1" height="27" fill="#000000"/><rect x="87" y="792" width="1" height="45" fill="#000000"/><rect x="87" y="840" width="1" height="27" fill="#000000"/><rect x="103" y="792" width="1" height="45" fill="#000000"/><rect x="103" y="840" width="1" height="27" fill="#000000"/><rect x="119" y="792" width="1" height="45" fill="#000000"/><rect x="119" y="840" width="1" height="27" fill="#000000"/><rect x="135" y="792" width="1" height="45" fill="#000000"/><rect x="135" y="840" width="1" height="27" fill="#000000"/><rect x="151" y="792" width="1" height="45" fill="#000000"/><rect x="151" y="840" width="1" height="27" fill="#000000"/><rect x="167" y="792" width="1" height="45" fill="#000000"/><rect x="167" y="840" width="1" height="27" fill="#000000"/><rect x="183" y="792" width="1" height="45" fill="#000000"/><rect x="183" y="840" width="1" height="27" fill="#000000"/><rect x="199" y="792" width="1" height="45" fill="#000000"/><rect x="199" y="840" width="1" height="27" fill="#000000"/><rect x="215" y="792" width="1" height="45" fill="#000000"/><rect x="215" y="840" width="1" height="27" fill="#000000"/><rect x="231" y="792" width="1" height="45" fill="#000000"/><rect x="231" y="840" width="1" height="27" fill="#000000"/><rect x="247" y="792" width="1" height="45" fill="#000000"/><rect x="247" y="840" width="1" height="27" fill="#000000"/><rect x="263" y="792" width="1" height="45" fill="#000000"/><rect x="263" y="840" width="1" height="27" fill="#000000"/><rect x="279" y="792" width="1" height="45" fill="#000000"/><rect x="279" y="840" width="1" height="27" fill="#000000"/><rect x="295" y="792" width="1" height="45" fill="#000000"/><rect x="295" y="840" width="1" height="27" fill="#000000"/><rect x="311" y="792" width="1" height="45" fill="#000000"/><rect x="311" y="840" width="1" height="27" fill="#000000"/><rect x="327" y="792" width="1" height="45" fill="#000000"/><rect x="327" y="840" width="1" height="27" fill="#000000"/><rect x="343" y="792" width="1" height="45" fill="#000000"/><rect x="343" y="840" width="1" height="27" fill="#000000"/><rect x="359" y="792" width="1" height="45" fill="#000000"/><rect x="359" y="840" width="1" height="27" fill="#000000"/><rect x="375" y="792" width="1" height="45" fill="#000000"/><rect x="375" y="840" width="1" height="27" fill="#000000"/><rect x="391" y="792" width="1" height="45" fill="#000000"/><rect x="391" y="840" width="1" height="27" fill="#000000"/><rect x="407" y="792" width="1" height="45" fill="#000000"/><rect x="407" y="840" width="1" height="27" fill="#000000"/><rect x="423" y="792" width="1" height="45" fill="#000000"/><rect x="423" y="840" width="1" height="27" fill="#000000"/><rect x="439" y="792" width="1" height="45" fill="#000000"/><rect x="439" y="840" width="1" height="27" fill="#000000"/><rect x="455" y="792" width="1" height="45" fill="#000000"/><rect x="455" y="840" width="1" height="27" fill="#000000"/><rect x="471" y="792" width="1" height="45" fill="#000000"/><rect x="471" y="840" width="1" height="27" fill="#000000"/><rect x="487" y="792" width="1" height="45" fill="#000000"/><rect x="487" y="840" width="1" height="27" fill="#000000"/><rect x="503" y="792" width="1" height="45" fill="#000000"/><rect x="503" y="840" width="1" height="27" fill="#000000"/><rect x="519" y="792" width="1" height="45" fill="#000000"/><rect x="519" y="840" width="1" height="27" fill="#000000"/><rect x="535" y="792" width="1" height="45" fill="#000000"/><rect x="535" y="840" width="1" height="27" fill="#000000"/><rect x="551" y="792" width="1" height="45" fill="#000000"/><rect x="551" y="840" width="1" height="27" fill="#000000"/><rect x="567" y="792" width="1" height="45" fill="#000000"/><rect x="567" y="840" width="1" height="27" fill="#000000"/><rect x="583" y="792" width="1" height="45" fill="#000000"/><rect x="583" y="840" width="1" height="27" fill="#000000"/><rect x="599" y="792" width="1" height="45" fill="#000000"/><rect x="599" y="840" width="1" height="27" fill="#000000"/><rect x="615" y="792" width="1" height="45" fill="#000000"/><rect x="615" y="840" width="1" height="27" fill="#000000"/><rect x="631" y="792" width="1" height="45" fill="#000000"/><rect x="631" y="840" width="1" height="27" fill="#000000"/><rect x="647" y="792" width="1" height="45" fill="#000000"/><rect x="647" y="840" width="1" height="27" fill="#000000"/><rect x="663" y="792" width="1" height="45" fill="#000000"/><rect x="663" y="840" width="1" height="27" fill="#000000"/><rect x="679" y="792" width="1" height="45" fill="#000000"/><rect x="679" y="840" width="1" height="27" fill="#000000"/><rect x="695" y="792" width="1" height="45" fill="#000000"/><rect x="695" y="840" width="1" height="27" fill="#000000"/><rect x="711" y="792" width="1" height="45" fill="#000000"/><rect x="711" y="840" width="1" height="27" fill="#000000"/><rect x="727" y="792" width="1" height="45" fill="#000000"/><rect x="727" y="840" width="1" height="27" fill="#000000"/><rect x="743" y="792" width="1" height="45" fill="#000000"/><rect x="743" y="840" width="1" height="27" fill="#000000"/><rect x="759" y="792" width="1" height="45" fill="#000000"/><rect x="759" y="840" width="1" height="27" fill="#000000"/><rect x="775" y="792" width="1" height="45" fill="#000000"/><rect x="775" y="840" width="1" height="27" fill="#000000"/><rect x="791" y="792" width="1" height="45" fill="#000000"/><rect x="791" y="840" width="1" height="27" fill="#000000"/><rect x="807" y="792" width="1" height="45" fill="#000000"/><rect x="807" y="840" width="1" height="27" fill="#000000"/><rect x="823" y="792" width="1" height="45" fill="#000000"/><rect x="823" y="840" width="1" height="27" fill="#000000"/><rect x="839" y="792" width="1" height="45" fill="#000000"/><rect x="839" y="840" width="1" height="27" fill="#000000"/><rect x="855" y="792" width="1" height="45" fill="#000000"/><rect x="855" y="840" width="1" height="27" fill="#000000"/><rect x="871" y="792" width="1" height="45" fill="#000000"/><rect x="871" y="840" width="1" height="27" fill="#000000"/><rect x="887" y="792" width="1" height="45" fill="#000000"/><rect x="887" y="840" width="1" height="27" fill="#000000"/><rect x="903" y="792" width="1" height="45" fill="#000000"/><rect x="903" y="840" width="1" height="27" fill="#000000"/><rect x="919" y="792" width="1" height="45" fill="#000000"/><rect x="919" y="840" width="1" height="27" fill="#000000"/><rect x="935" y="792" width="1" height="45" fill="#000000"/><rect x="935" y="840" width="1" height="27" fill="#000000"/><rect x="951" y="792" width="1" height="45" fill="#000000"/><rect x="951" y="840" width="1" height="27" fill="#000000"/><rect x="967" y="792" width="1" height="45" fill="#000000"/><rect x="967" y="840" width="1" height="27" fill="#000000"/><rect x="983" y="792" width="1" height="45" fill="#000000"/><rect x="983" y="840" width="1" height="27" fill="#000000"/><rect x="999" y="792" width="1" height="45" fill="#000000"/><rect x="999" y="840" width="1" height="27" fill="#000000"/><rect x="1015" y="792" width="1" height="45" fill="#000000"/><rect x="1015" y="840" width="1" height="27" fill="#000000"/><rect x="1031" y="792" width="1" height="45" fill="#000000"/><rect x="1031" y="840" width="1" height="27" fill="#000000"/><rect x="1047" y="792" width="1" height="45" fill="#000000"/><rect x="1047" y="840" width="1" height="27" fill="#000000"/><rect x="1063" y="792" width="1" height="45" fill="#000000"/><rect x="1063" y="840" width="1" height="27" fill="#000000"/><rect x="1079" y="792" width="1" height="45" fill="#000000"/><rect x="1079" y="840" width="1" height="27" fill="#000000"/><rect x="1095" y="792" width="1" height="45" fill="#000000"/><rect x="1095" y="840" width="1" height="27" fill="#000000"/><rect x="1111" y="792" width="1" height="45" fill="#000000"/><rect x="1111" y="840" width="1" height="27" fill="#000000"/><rect x="1127" y="792" width="1" height="45" fill="#000000"/><rect x="1127" y="840" width="1" height="27" fill="#000000"/><rect x="1143" y="792" width="1" height="45" fill="#000000"/><rect x="1143" y="840" width="1" height="27" fill="#000000"/><rect x="1159" y="792" width="1" height="45" fill="#000000"/><rect x="1159" y="840" width="1" height="27" fill="#000000"/><rect x="1175" y="792" width="1" height="45" fill="#000000"/><rect x="1175" y="840" width="1" height="27" fill="#000000"/><rect x="1191" y="792" width="1" height="45" fill="#000000"/><rect x="1191" y="840" width="1" height="27" fill="#000000"/><rect x="1207" y="792" width="1" height="45" fill="#000000"/><rect x="1207" y="840" width="1" height="27" fill="#000000"/></g>
<line x1="0" y1="813.5" x2="1216" y2="813.5" stroke="#6E5A46" stroke-width="1" stroke-dasharray="3 3" shape-rendering="crispEdges"/>
<text x="6" y="803.5" font-family="'Liberation Sans', sans-serif" font-size="10.5" font-weight="normal" fill="#9098A8" text-anchor="start" textLength="304" lengthAdjust="spacingAndGlyphs" xml:space="preserve">Super trend of : Exponential moving average (10,36)  1.0000 32897.2077</text>
<polyline points="-2,798.8 160,797.5 200,802 270,802 287.5,805 312.5,801 375,799.5 432,798 597,798 602,796.5 689.5,796.5 707,798.8 744.5,801.2 764.5,803.8 789.5,803.8 807,801.8 837,801.2 864,799.5 886.5,799.5 889,798.2 949,798.2 954,797.5 1046.5,797.5 1050,796.2 1079,796.2 1081.5,797.5 1141.5,797.5 1144,798.8 1216.5,798.8" fill="none" stroke="#00F080" stroke-width="2.8" stroke-linejoin="round" stroke-linecap="round"/>
<text x="0" y="851.5" font-family="'Liberation Sans', sans-serif" font-size="10.5" font-weight="normal" fill="#C8C8C8" text-anchor="start" textLength="314" lengthAdjust="spacingAndGlyphs" xml:space="preserve">5  Super trend of : Exponential moving average (10,36)  1.0000 32825.0186</text>
<rect x="0" y="676" width="1729" height="1" fill="#A8A8A8"/>
<rect x="0" y="677" width="1729" height="1" fill="#000"/>
<rect x="0" y="678" width="1729" height="1" fill="#A8A8A8"/>
<rect x="0" y="789" width="1729" height="1" fill="#A8A8A8"/>
<rect x="0" y="790" width="1729" height="1" fill="#000"/>
<rect x="0" y="791" width="1729" height="1" fill="#A8A8A8"/>
<rect x="0" y="837" width="1729" height="1" fill="#A8A8A8"/>
<rect x="0" y="838" width="1729" height="1" fill="#000"/>
<rect x="0" y="839" width="1729" height="1" fill="#A8A8A8"/>
<rect x="0" y="867" width="1729" height="1" fill="#A8A8A8"/>
<rect x="0" y="868" width="1729" height="1" fill="#000"/>
<rect x="0" y="869" width="1729" height="1" fill="#A8A8A8"/>
<rect x="0" y="872" width="1729" height="1" fill="#A8A8A8"/>
<rect x="-17" y="872" width="1" height="5" fill="#C0C0C0" shape-rendering="crispEdges"/>
<text x="-18" y="884.8" font-family="'Liberation Sans', sans-serif" font-size="10.2" font-weight="normal" fill="#D0D0D0" text-anchor="start" textLength="51" lengthAdjust="spacingAndGlyphs" xml:space="preserve">30 Mar 2023</text>
<rect x="47" y="872" width="1" height="5" fill="#C0C0C0" shape-rendering="crispEdges"/>
<text x="46" y="884.8" font-family="'Liberation Sans', sans-serif" font-size="10.2" font-weight="normal" fill="#D0D0D0" text-anchor="start" textLength="55" lengthAdjust="spacingAndGlyphs" xml:space="preserve">30 Mar 08:50</text>
<rect x="111" y="872" width="1" height="5" fill="#C0C0C0" shape-rendering="crispEdges"/>
<text x="110" y="884.8" font-family="'Liberation Sans', sans-serif" font-size="10.2" font-weight="normal" fill="#D0D0D0" text-anchor="start" textLength="55" lengthAdjust="spacingAndGlyphs" xml:space="preserve">30 Mar 09:10</text>
<rect x="175" y="872" width="1" height="5" fill="#C0C0C0" shape-rendering="crispEdges"/>
<text x="174" y="884.8" font-family="'Liberation Sans', sans-serif" font-size="10.2" font-weight="normal" fill="#D0D0D0" text-anchor="start" textLength="55" lengthAdjust="spacingAndGlyphs" xml:space="preserve">30 Mar 09:30</text>
<rect x="239" y="872" width="1" height="5" fill="#C0C0C0" shape-rendering="crispEdges"/>
<text x="238" y="884.8" font-family="'Liberation Sans', sans-serif" font-size="10.2" font-weight="normal" fill="#D0D0D0" text-anchor="start" textLength="55" lengthAdjust="spacingAndGlyphs" xml:space="preserve">30 Mar 09:50</text>
<rect x="303" y="872" width="1" height="5" fill="#C0C0C0" shape-rendering="crispEdges"/>
<text x="302" y="884.8" font-family="'Liberation Sans', sans-serif" font-size="10.2" font-weight="normal" fill="#D0D0D0" text-anchor="start" textLength="55" lengthAdjust="spacingAndGlyphs" xml:space="preserve">30 Mar 10:10</text>
<rect x="367" y="872" width="1" height="5" fill="#C0C0C0" shape-rendering="crispEdges"/>
<text x="366" y="884.8" font-family="'Liberation Sans', sans-serif" font-size="10.2" font-weight="normal" fill="#D0D0D0" text-anchor="start" textLength="55" lengthAdjust="spacingAndGlyphs" xml:space="preserve">30 Mar 10:30</text>
<rect x="431" y="872" width="1" height="5" fill="#C0C0C0" shape-rendering="crispEdges"/>
<text x="430" y="884.8" font-family="'Liberation Sans', sans-serif" font-size="10.2" font-weight="normal" fill="#D0D0D0" text-anchor="start" textLength="55" lengthAdjust="spacingAndGlyphs" xml:space="preserve">30 Mar 10:50</text>
<rect x="495" y="872" width="1" height="5" fill="#C0C0C0" shape-rendering="crispEdges"/>
<text x="494" y="884.8" font-family="'Liberation Sans', sans-serif" font-size="10.2" font-weight="normal" fill="#D0D0D0" text-anchor="start" textLength="55" lengthAdjust="spacingAndGlyphs" xml:space="preserve">30 Mar 11:10</text>
<rect x="559" y="872" width="1" height="5" fill="#C0C0C0" shape-rendering="crispEdges"/>
<text x="558" y="884.8" font-family="'Liberation Sans', sans-serif" font-size="10.2" font-weight="normal" fill="#D0D0D0" text-anchor="start" textLength="55" lengthAdjust="spacingAndGlyphs" xml:space="preserve">30 Mar 11:30</text>
<rect x="623" y="872" width="1" height="5" fill="#C0C0C0" shape-rendering="crispEdges"/>
<text x="622" y="884.8" font-family="'Liberation Sans', sans-serif" font-size="10.2" font-weight="normal" fill="#D0D0D0" text-anchor="start" textLength="55" lengthAdjust="spacingAndGlyphs" xml:space="preserve">30 Mar 11:50</text>
<rect x="687" y="872" width="1" height="5" fill="#C0C0C0" shape-rendering="crispEdges"/>
<text x="686" y="884.8" font-family="'Liberation Sans', sans-serif" font-size="10.2" font-weight="normal" fill="#D0D0D0" text-anchor="start" textLength="55" lengthAdjust="spacingAndGlyphs" xml:space="preserve">30 Mar 12:10</text>
<rect x="751" y="872" width="1" height="5" fill="#C0C0C0" shape-rendering="crispEdges"/>
<text x="750" y="884.8" font-family="'Liberation Sans', sans-serif" font-size="10.2" font-weight="normal" fill="#D0D0D0" text-anchor="start" textLength="55" lengthAdjust="spacingAndGlyphs" xml:space="preserve">30 Mar 12:30</text>
<rect x="815" y="872" width="1" height="5" fill="#C0C0C0" shape-rendering="crispEdges"/>
<text x="814" y="884.8" font-family="'Liberation Sans', sans-serif" font-size="10.2" font-weight="normal" fill="#D0D0D0" text-anchor="start" textLength="55" lengthAdjust="spacingAndGlyphs" xml:space="preserve">30 Mar 12:50</text>
<rect x="879" y="872" width="1" height="5" fill="#C0C0C0" shape-rendering="crispEdges"/>
<text x="878" y="884.8" font-family="'Liberation Sans', sans-serif" font-size="10.2" font-weight="normal" fill="#D0D0D0" text-anchor="start" textLength="55" lengthAdjust="spacingAndGlyphs" xml:space="preserve">30 Mar 13:10</text>
<rect x="943" y="872" width="1" height="5" fill="#C0C0C0" shape-rendering="crispEdges"/>
<text x="942" y="884.8" font-family="'Liberation Sans', sans-serif" font-size="10.2" font-weight="normal" fill="#D0D0D0" text-anchor="start" textLength="55" lengthAdjust="spacingAndGlyphs" xml:space="preserve">30 Mar 13:30</text>
<rect x="1007" y="872" width="1" height="5" fill="#C0C0C0" shape-rendering="crispEdges"/>
<text x="1006" y="884.8" font-family="'Liberation Sans', sans-serif" font-size="10.2" font-weight="normal" fill="#D0D0D0" text-anchor="start" textLength="55" lengthAdjust="spacingAndGlyphs" xml:space="preserve">30 Mar 13:50</text>
<rect x="1071" y="872" width="1" height="5" fill="#C0C0C0" shape-rendering="crispEdges"/>
<text x="1070" y="884.8" font-family="'Liberation Sans', sans-serif" font-size="10.2" font-weight="normal" fill="#D0D0D0" text-anchor="start" textLength="55" lengthAdjust="spacingAndGlyphs" xml:space="preserve">30 Mar 14:10</text>
<rect x="1135" y="872" width="1" height="5" fill="#C0C0C0" shape-rendering="crispEdges"/>
<text x="1134" y="884.8" font-family="'Liberation Sans', sans-serif" font-size="10.2" font-weight="normal" fill="#D0D0D0" text-anchor="start" textLength="55" lengthAdjust="spacingAndGlyphs" xml:space="preserve">30 Mar 14:30</text>
<rect x="1199" y="872" width="1" height="5" fill="#C0C0C0" shape-rendering="crispEdges"/>
<text x="1198" y="884.8" font-family="'Liberation Sans', sans-serif" font-size="10.2" font-weight="normal" fill="#D0D0D0" text-anchor="start" textLength="55" lengthAdjust="spacingAndGlyphs" xml:space="preserve">30 Mar 14:50</text>
</svg>
</body></html>
